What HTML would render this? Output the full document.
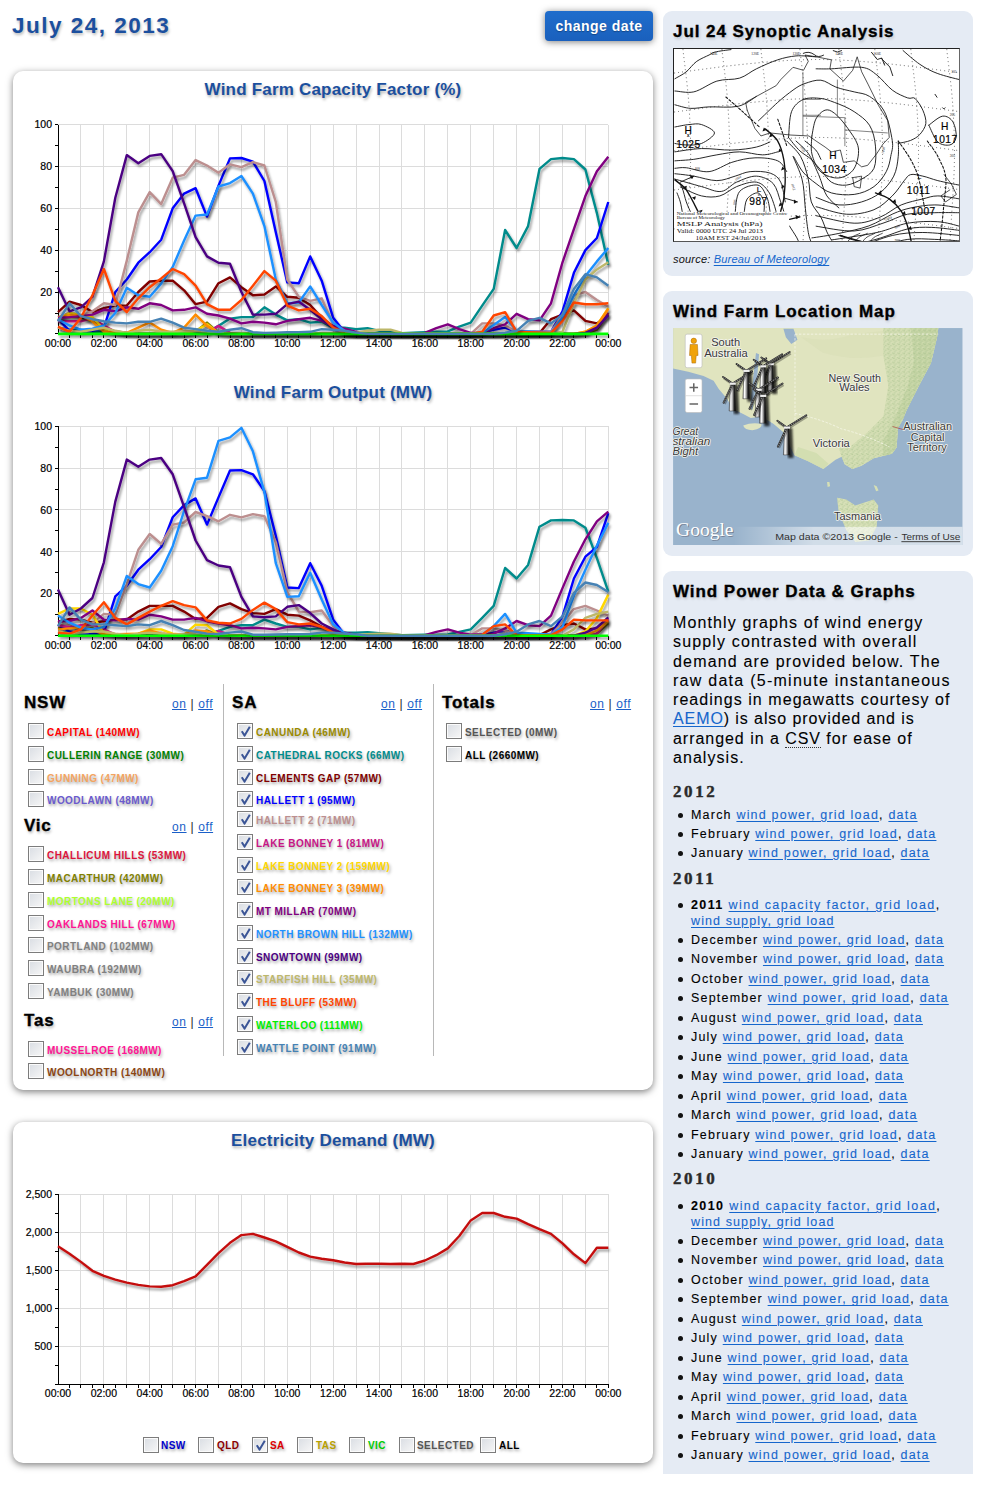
<!DOCTYPE html>
<html><head><meta charset="utf-8"><title>Wind</title>
<style>
*{box-sizing:border-box}
html,body{margin:0;padding:0;background:#fff}
body{width:984px;height:1489px;overflow:hidden;position:relative;font-family:"Liberation Sans",sans-serif}
.a{position:absolute}
#title{position:absolute;left:12px;top:13px;font-size:22.5px;font-weight:bold;color:#1b4f9e;text-shadow:1px 2px 3px rgba(0,0,0,.28);letter-spacing:1.5px;white-space:nowrap}
#btn{position:absolute;left:545px;top:11px;width:108px;height:30px;background:#1c65c4;border-radius:4px;box-shadow:0 1px 7px rgba(0,0,0,.5);background-image:linear-gradient(#1f6dcc,#1a60bd);color:#fff;font-weight:bold;font-size:14px;letter-spacing:0.5px;text-align:center;line-height:30px;text-shadow:0 1px 1px rgba(0,0,0,.3)}
.panel{position:absolute;background:#fff;border-radius:10px;box-shadow:0 2px 7px rgba(0,0,0,.5)}
.ctitle{position:absolute;left:0;width:640px;text-align:center;font-weight:bold;font-size:17px;color:#1b4f9e;text-shadow:1px 2px 3px rgba(0,0,0,.3);white-space:nowrap;letter-spacing:0.2px}
svg.page{position:absolute;left:0;top:0}
.cb{position:absolute;width:16px;height:16px;border:1px solid #7c7c7c;background:linear-gradient(135deg,#d9dde3,#f7f7f7);box-shadow:inset 0 0 0 1px #fbfbfb}
.cb .ck{position:absolute;left:2px;top:2px}
.lab{position:absolute;font-size:10px;font-weight:bold;white-space:nowrap;text-shadow:1px 2px 3px rgba(0,0,0,.35);line-height:14px;letter-spacing:0.45px}
.grp{position:absolute;font-size:17px;letter-spacing:0.8px;font-weight:bold;color:#000;-webkit-text-stroke:0.35px #000;text-shadow:1px 2px 3px rgba(0,0,0,.3);line-height:20px}
.onoff{position:absolute;font-size:12px;letter-spacing:0.6px;color:#222;white-space:nowrap;line-height:14px}
.onoff a{color:#1a5fc8;text-decoration:underline}
.vdiv{position:absolute;width:1px;background:#b8b8b8}
.sbox{position:absolute;left:663px;width:310px;background:#e5ebf4;border-radius:9px}
.sh{position:absolute;left:673px;font-size:17px;font-weight:bold;color:#000;-webkit-text-stroke:0.35px #000;text-shadow:1px 2px 3px rgba(0,0,0,.18);white-space:nowrap;letter-spacing:0.95px}
.ptxt{position:absolute;left:673px;font-size:16px;line-height:19.3px;color:#000;white-space:nowrap;letter-spacing:1.05px;-webkit-text-stroke:0.1px}
.ptxt a,.li a,.src a{color:#1566cc;text-decoration:underline;text-underline-offset:1.5px}
.abbr{border-bottom:1px dotted #333}
.yr{position:absolute;left:673px;font-family:"Liberation Serif",serif;font-weight:bold;font-size:17px;letter-spacing:2.6px;color:#2a2a2a;line-height:22px;-webkit-text-stroke:0.4px #2a2a2a}
.li{position:absolute;left:691px;font-size:12.5px;line-height:16px;color:#000;white-space:nowrap;letter-spacing:1.2px;-webkit-text-stroke:0.1px}
.bul{position:absolute;left:-13px;top:6px;width:5px;height:5px;border-radius:50%;background:#111}
.src{position:absolute;left:673px;top:253px;font-size:11px;font-style:italic;color:#111;white-space:nowrap;letter-spacing:0.2px}
</style></head><body>
<div id="title">July 24, 2013</div>
<div id="btn">change date</div>
<div class="panel" style="left:13px;top:71px;width:640px;height:1019px"></div>
<div class="panel" style="left:13px;top:1122px;width:640px;height:341px"></div>
<div class="ctitle" style="left:13px;top:80px">Wind Farm Capacity Factor (%)</div>
<div class="ctitle" style="left:13px;top:383px">Wind Farm Output (MW)</div>
<div class="ctitle" style="left:13px;top:1131px">Electricity Demand (MW)</div>
<svg class="page" width="660" height="1489" viewBox="0 0 660 1489">
<defs><filter id="sh" filterUnits="userSpaceOnUse" x="0" y="0" width="660" height="1489"><feDropShadow dx="1.5" dy="2.5" stdDeviation="1.3" flood-color="#000" flood-opacity="0.38"/></filter></defs>
<g stroke="#dcdcdc" stroke-width="1" shape-rendering="crispEdges"><line x1="80.9" y1="124.5" x2="80.9" y2="333.9"/><line x1="103.9" y1="124.5" x2="103.9" y2="333.9"/><line x1="126.8" y1="124.5" x2="126.8" y2="333.9"/><line x1="149.7" y1="124.5" x2="149.7" y2="333.9"/><line x1="172.7" y1="124.5" x2="172.7" y2="333.9"/><line x1="195.6" y1="124.5" x2="195.6" y2="333.9"/><line x1="218.5" y1="124.5" x2="218.5" y2="333.9"/><line x1="241.4" y1="124.5" x2="241.4" y2="333.9"/><line x1="264.4" y1="124.5" x2="264.4" y2="333.9"/><line x1="287.3" y1="124.5" x2="287.3" y2="333.9"/><line x1="310.2" y1="124.5" x2="310.2" y2="333.9"/><line x1="333.2" y1="124.5" x2="333.2" y2="333.9"/><line x1="356.1" y1="124.5" x2="356.1" y2="333.9"/><line x1="379.0" y1="124.5" x2="379.0" y2="333.9"/><line x1="401.9" y1="124.5" x2="401.9" y2="333.9"/><line x1="424.9" y1="124.5" x2="424.9" y2="333.9"/><line x1="447.8" y1="124.5" x2="447.8" y2="333.9"/><line x1="470.7" y1="124.5" x2="470.7" y2="333.9"/><line x1="493.7" y1="124.5" x2="493.7" y2="333.9"/><line x1="516.6" y1="124.5" x2="516.6" y2="333.9"/><line x1="539.5" y1="124.5" x2="539.5" y2="333.9"/><line x1="562.5" y1="124.5" x2="562.5" y2="333.9"/><line x1="585.4" y1="124.5" x2="585.4" y2="333.9"/><line x1="608.3" y1="124.5" x2="608.3" y2="333.9"/><line x1="58.0" y1="292.0" x2="608.3" y2="292.0"/><line x1="58.0" y1="250.1" x2="608.3" y2="250.1"/><line x1="58.0" y1="208.3" x2="608.3" y2="208.3"/><line x1="58.0" y1="166.4" x2="608.3" y2="166.4"/><line x1="58.0" y1="124.5" x2="608.3" y2="124.5"/></g><g stroke="#000" stroke-width="1" shape-rendering="crispEdges"><line x1="58.0" y1="124.5" x2="58.0" y2="333.9"/><line x1="58.0" y1="333.9" x2="608.3" y2="333.9"/><line x1="54.5" y1="333.9" x2="58.0" y2="333.9"/><line x1="54.5" y1="313.0" x2="58.0" y2="313.0"/><line x1="54.5" y1="292.0" x2="58.0" y2="292.0"/><line x1="54.5" y1="271.1" x2="58.0" y2="271.1"/><line x1="54.5" y1="250.1" x2="58.0" y2="250.1"/><line x1="54.5" y1="229.2" x2="58.0" y2="229.2"/><line x1="54.5" y1="208.3" x2="58.0" y2="208.3"/><line x1="54.5" y1="187.3" x2="58.0" y2="187.3"/><line x1="54.5" y1="166.4" x2="58.0" y2="166.4"/><line x1="54.5" y1="145.4" x2="58.0" y2="145.4"/><line x1="54.5" y1="124.5" x2="58.0" y2="124.5"/><line x1="69.5" y1="333.9" x2="69.5" y2="337.9"/><line x1="80.9" y1="333.9" x2="80.9" y2="337.9"/><line x1="92.4" y1="333.9" x2="92.4" y2="337.9"/><line x1="103.9" y1="333.9" x2="103.9" y2="337.9"/><line x1="115.3" y1="333.9" x2="115.3" y2="337.9"/><line x1="126.8" y1="333.9" x2="126.8" y2="337.9"/><line x1="138.3" y1="333.9" x2="138.3" y2="337.9"/><line x1="149.7" y1="333.9" x2="149.7" y2="337.9"/><line x1="161.2" y1="333.9" x2="161.2" y2="337.9"/><line x1="172.7" y1="333.9" x2="172.7" y2="337.9"/><line x1="184.1" y1="333.9" x2="184.1" y2="337.9"/><line x1="195.6" y1="333.9" x2="195.6" y2="337.9"/><line x1="207.0" y1="333.9" x2="207.0" y2="337.9"/><line x1="218.5" y1="333.9" x2="218.5" y2="337.9"/><line x1="230.0" y1="333.9" x2="230.0" y2="337.9"/><line x1="241.4" y1="333.9" x2="241.4" y2="337.9"/><line x1="252.9" y1="333.9" x2="252.9" y2="337.9"/><line x1="264.4" y1="333.9" x2="264.4" y2="337.9"/><line x1="275.8" y1="333.9" x2="275.8" y2="337.9"/><line x1="287.3" y1="333.9" x2="287.3" y2="337.9"/><line x1="298.8" y1="333.9" x2="298.8" y2="337.9"/><line x1="310.2" y1="333.9" x2="310.2" y2="337.9"/><line x1="321.7" y1="333.9" x2="321.7" y2="337.9"/><line x1="333.2" y1="333.9" x2="333.2" y2="337.9"/><line x1="344.6" y1="333.9" x2="344.6" y2="337.9"/><line x1="356.1" y1="333.9" x2="356.1" y2="337.9"/><line x1="367.6" y1="333.9" x2="367.6" y2="337.9"/><line x1="379.0" y1="333.9" x2="379.0" y2="337.9"/><line x1="390.5" y1="333.9" x2="390.5" y2="337.9"/><line x1="401.9" y1="333.9" x2="401.9" y2="337.9"/><line x1="413.4" y1="333.9" x2="413.4" y2="337.9"/><line x1="424.9" y1="333.9" x2="424.9" y2="337.9"/><line x1="436.3" y1="333.9" x2="436.3" y2="337.9"/><line x1="447.8" y1="333.9" x2="447.8" y2="337.9"/><line x1="459.3" y1="333.9" x2="459.3" y2="337.9"/><line x1="470.7" y1="333.9" x2="470.7" y2="337.9"/><line x1="482.2" y1="333.9" x2="482.2" y2="337.9"/><line x1="493.7" y1="333.9" x2="493.7" y2="337.9"/><line x1="505.1" y1="333.9" x2="505.1" y2="337.9"/><line x1="516.6" y1="333.9" x2="516.6" y2="337.9"/><line x1="528.1" y1="333.9" x2="528.1" y2="337.9"/><line x1="539.5" y1="333.9" x2="539.5" y2="337.9"/><line x1="551.0" y1="333.9" x2="551.0" y2="337.9"/><line x1="562.5" y1="333.9" x2="562.5" y2="337.9"/><line x1="573.9" y1="333.9" x2="573.9" y2="337.9"/><line x1="585.4" y1="333.9" x2="585.4" y2="337.9"/><line x1="596.9" y1="333.9" x2="596.9" y2="337.9"/><line x1="608.3" y1="333.9" x2="608.3" y2="337.9"/></g><g font-family="Liberation Sans" font-size="10.5" fill="#000" stroke="#000" stroke-width="0.2"><text x="52.0" y="128.1" text-anchor="end">100</text><text x="52.0" y="170.0" text-anchor="end">80</text><text x="52.0" y="211.9" text-anchor="end">60</text><text x="52.0" y="253.7" text-anchor="end">40</text><text x="52.0" y="295.6" text-anchor="end">20</text><text x="58.0" y="346.9" text-anchor="middle">00:00</text><text x="103.9" y="346.9" text-anchor="middle">02:00</text><text x="149.7" y="346.9" text-anchor="middle">04:00</text><text x="195.6" y="346.9" text-anchor="middle">06:00</text><text x="241.4" y="346.9" text-anchor="middle">08:00</text><text x="287.3" y="346.9" text-anchor="middle">10:00</text><text x="333.2" y="346.9" text-anchor="middle">12:00</text><text x="379.0" y="346.9" text-anchor="middle">14:00</text><text x="424.9" y="346.9" text-anchor="middle">16:00</text><text x="470.7" y="346.9" text-anchor="middle">18:00</text><text x="516.6" y="346.9" text-anchor="middle">20:00</text><text x="562.5" y="346.9" text-anchor="middle">22:00</text><text x="608.3" y="346.9" text-anchor="middle">00:00</text></g><g><polyline points="58.0,317.1 69.5,317.1 80.9,317.1 92.4,321.3 103.9,329.7 115.3,331.3 126.8,332.9 138.3,333.9 149.7,333.9 161.2,333.9 172.7,333.9 184.1,333.9 195.6,331.8 207.0,322.6 218.5,332.9 230.0,333.9 241.4,333.9 252.9,333.9 264.4,333.9 275.8,333.9 287.3,333.9 298.8,333.9 310.2,333.9 321.7,333.9 333.2,333.9 344.6,333.9 356.1,333.9 367.6,333.9 379.0,333.9 390.5,333.9 401.9,333.9 413.4,333.9 424.9,333.9 436.3,333.9 447.8,333.9 459.3,333.9 470.7,333.9 482.2,333.9 493.7,333.9 505.1,333.9 516.6,333.9 528.1,333.9 539.5,333.9 551.0,333.9 562.5,333.9 573.9,333.9 585.4,333.9 596.9,329.7 608.3,313.0" fill="none" stroke="#808000" stroke-width="2.4" stroke-linejoin="round" filter="url(#sh)"/><polyline points="58.0,327.6 69.5,329.7 80.9,329.7 92.4,331.8 103.9,331.8 115.3,332.3 126.8,332.9 138.3,333.9 149.7,333.9 161.2,333.9 172.7,333.9 184.1,333.9 195.6,332.9 207.0,332.9 218.5,325.9 230.0,318.6 241.4,317.1 252.9,317.1 264.4,307.3 275.8,314.6 287.3,320.3 298.8,319.2 310.2,322.6 321.7,321.8 333.2,327.6 344.6,327.6 356.1,329.1 367.6,328.2 379.0,330.8 390.5,331.9 401.9,333.1 413.4,332.6 424.9,332.2 436.3,331.8 447.8,331.4 459.3,326.6 470.7,322.6 482.2,305.6 493.7,288.9 505.1,230.0 516.6,248.0 528.1,226.1 539.5,168.9 551.0,159.1 562.5,158.0 573.9,159.1 585.4,169.5 596.9,213.1 608.3,264.8" fill="none" stroke="#008b8b" stroke-width="2.4" stroke-linejoin="round" filter="url(#sh)"/><polyline points="58.0,312.1 69.5,301.7 80.9,305.0 92.4,312.1 103.9,308.1 115.3,305.6 126.8,305.6 138.3,292.0 149.7,281.5 161.2,280.7 172.7,280.7 184.1,290.3 195.6,304.2 207.0,301.7 218.5,283.2 230.0,277.4 241.4,287.2 252.9,295.2 264.4,294.5 275.8,286.4 287.3,296.8 298.8,297.7 310.2,305.0 321.7,317.8 333.2,326.6 344.6,332.9 356.1,333.9 367.6,333.9 379.0,333.9 390.5,333.9 401.9,333.9 413.4,333.9 424.9,333.9 436.3,333.9 447.8,333.9 459.3,333.9 470.7,333.9 482.2,333.9 493.7,333.9 505.1,333.9 516.6,333.9 528.1,333.9 539.5,332.9 551.0,319.2 562.5,314.6 573.9,310.4 585.4,320.9 596.9,323.4 608.3,315.1" fill="none" stroke="#800000" stroke-width="2.4" stroke-linejoin="round" filter="url(#sh)"/><polyline points="58.0,319.2 69.5,330.8 80.9,331.8 92.4,330.8 103.9,327.6 115.3,292.0 126.8,279.5 138.3,262.7 149.7,252.2 161.2,239.7 172.7,208.3 184.1,193.6 195.6,188.2 207.0,216.6 218.5,185.6 230.0,158.4 241.4,158.0 252.9,161.6 264.4,181.0 275.8,232.3 287.3,282.4 298.8,283.2 310.2,256.4 321.7,280.7 333.2,317.8 344.6,332.2 356.1,333.9 367.6,333.9 379.0,333.9 390.5,333.9 401.9,333.9 413.4,333.9 424.9,333.9 436.3,333.9 447.8,333.9 459.3,333.9 470.7,333.9 482.2,332.9 493.7,329.7 505.1,327.6 516.6,331.8 528.1,331.8 539.5,331.8 551.0,331.8 562.5,311.3 573.9,272.8 585.4,250.1 596.9,238.0 608.3,202.0" fill="none" stroke="#0000ff" stroke-width="2.4" stroke-linejoin="round" filter="url(#sh)"/><polyline points="58.0,317.1 69.5,313.0 80.9,315.1 92.4,311.3 103.9,303.3 115.3,305.0 126.8,260.6 138.3,212.4 149.7,192.1 161.2,204.1 172.7,177.7 184.1,174.8 195.6,160.1 207.0,165.5 218.5,172.7 230.0,164.3 241.4,167.2 252.9,162.2 264.4,165.5 275.8,202.0 287.3,279.5 298.8,296.8 310.2,300.8 321.7,298.3 333.2,324.3 344.6,332.9 356.1,333.9 367.6,333.9 379.0,333.9 390.5,333.9 401.9,333.9 413.4,333.9 424.9,333.9 436.3,333.9 447.8,333.9 459.3,333.9 470.7,333.9 482.2,323.4 493.7,323.4 505.1,325.5 516.6,331.8 528.1,331.8 539.5,331.8 551.0,331.8 562.5,314.6 573.9,295.2 585.4,292.0 596.9,300.0 608.3,306.7" fill="none" stroke="#bc8f8f" stroke-width="2.4" stroke-linejoin="round" filter="url(#sh)"/><polyline points="58.0,321.3 69.5,321.3 80.9,321.3 92.4,318.2 103.9,325.5 115.3,331.8 126.8,333.9 138.3,333.9 149.7,333.9 161.2,333.9 172.7,333.9 184.1,333.9 195.6,333.9 207.0,332.9 218.5,325.9 230.0,332.9 241.4,333.9 252.9,333.9 264.4,333.9 275.8,333.9 287.3,333.9 298.8,333.9 310.2,333.9 321.7,333.9 333.2,333.9 344.6,333.9 356.1,333.9 367.6,333.9 379.0,333.9 390.5,333.9 401.9,333.9 413.4,333.9 424.9,333.9 436.3,333.9 447.8,333.9 459.3,333.9 470.7,333.9 482.2,333.9 493.7,333.9 505.1,333.9 516.6,333.9 528.1,333.9 539.5,333.9 551.0,333.9 562.5,333.9 573.9,333.9 585.4,332.9 596.9,327.6 608.3,313.0" fill="none" stroke="#c71585" stroke-width="2.4" stroke-linejoin="round" filter="url(#sh)"/><polyline points="58.0,319.2 69.5,313.0 80.9,315.1 92.4,317.1 103.9,329.7 115.3,332.9 126.8,333.9 138.3,333.9 149.7,333.9 161.2,333.9 172.7,333.9 184.1,333.9 195.6,330.8 207.0,324.3 218.5,332.9 230.0,333.9 241.4,333.9 252.9,333.9 264.4,333.9 275.8,333.9 287.3,333.9 298.8,333.9 310.2,333.9 321.7,333.9 333.2,333.9 344.6,333.9 356.1,333.9 367.6,333.9 379.0,333.9 390.5,333.9 401.9,333.9 413.4,333.9 424.9,333.9 436.3,333.9 447.8,333.9 459.3,333.9 470.7,333.9 482.2,333.9 493.7,333.9 505.1,333.9 516.6,333.9 528.1,333.9 539.5,333.9 551.0,333.9 562.5,333.9 573.9,333.9 585.4,331.8 596.9,325.5 608.3,308.1" fill="none" stroke="#ffd700" stroke-width="2.4" stroke-linejoin="round" filter="url(#sh)"/><polyline points="58.0,317.1 69.5,315.1 80.9,315.1 92.4,321.3 103.9,331.8 115.3,332.3 126.8,332.9 138.3,327.6 149.7,322.4 161.2,329.7 172.7,332.9 184.1,327.6 195.6,314.6 207.0,325.9 218.5,332.9 230.0,333.9 241.4,333.9 252.9,333.9 264.4,333.9 275.8,333.9 287.3,333.9 298.8,333.9 310.2,333.9 321.7,333.9 333.2,333.9 344.6,333.9 356.1,333.9 367.6,333.9 379.0,333.9 390.5,333.9 401.9,333.9 413.4,333.9 424.9,333.9 436.3,333.9 447.8,333.9 459.3,333.9 470.7,333.9 482.2,333.9 493.7,333.9 505.1,333.9 516.6,333.9 528.1,333.9 539.5,333.9 551.0,333.9 562.5,333.9 573.9,333.9 585.4,331.8 596.9,325.5 608.3,308.8" fill="none" stroke="#ff8c00" stroke-width="2.4" stroke-linejoin="round" filter="url(#sh)"/><polyline points="58.0,317.8 69.5,317.1 80.9,316.1 92.4,314.6 103.9,309.8 115.3,311.3 126.8,307.3 138.3,308.8 149.7,303.3 161.2,305.0 172.7,310.4 184.1,309.8 195.6,307.3 207.0,313.8 218.5,315.5 230.0,318.6 241.4,323.4 252.9,321.8 264.4,322.6 275.8,324.3 287.3,320.9 298.8,319.2 310.2,317.8 321.7,320.9 333.2,325.9 344.6,328.7 356.1,331.8 367.6,333.9 379.0,333.9 390.5,333.9 401.9,333.9 413.4,333.9 424.9,332.9 436.3,328.2 447.8,324.3 459.3,329.1 470.7,332.9 482.2,332.9 493.7,328.2 505.1,324.3 516.6,313.8 528.1,319.2 539.5,320.3 551.0,303.3 562.5,262.3 573.9,229.2 585.4,196.1 596.9,171.2 608.3,156.7" fill="none" stroke="#800080" stroke-width="2.4" stroke-linejoin="round" filter="url(#sh)"/><polyline points="58.0,319.2 69.5,325.5 80.9,329.7 92.4,328.7 103.9,325.5 115.3,313.0 126.8,287.8 138.3,295.2 149.7,296.8 161.2,283.6 172.7,266.9 184.1,240.5 195.6,215.6 207.0,214.5 218.5,186.5 230.0,183.1 241.4,176.0 252.9,193.6 264.4,226.1 275.8,279.5 287.3,303.3 298.8,302.5 310.2,286.4 321.7,305.0 333.2,322.6 344.6,330.8 356.1,333.9 367.6,333.9 379.0,333.9 390.5,333.9 401.9,333.9 413.4,333.9 424.9,333.9 436.3,333.9 447.8,333.9 459.3,333.9 470.7,333.9 482.2,332.9 493.7,325.1 505.1,317.1 516.6,330.8 528.1,331.5 539.5,332.2 551.0,332.9 562.5,317.8 573.9,295.2 585.4,275.9 596.9,261.4 608.3,248.0" fill="none" stroke="#1e90ff" stroke-width="2.4" stroke-linejoin="round" filter="url(#sh)"/><polyline points="58.0,287.2 69.5,311.3 80.9,307.3 92.4,296.8 103.9,261.4 115.3,197.8 126.8,155.1 138.3,163.2 149.7,155.9 161.2,154.2 172.7,171.2 184.1,203.4 195.6,237.2 207.0,256.4 218.5,262.7 230.0,263.8 241.4,292.0 252.9,314.6 264.4,314.6 275.8,313.8 287.3,304.2 298.8,301.7 310.2,309.8 321.7,319.2 333.2,327.6 344.6,332.9 356.1,333.9 367.6,333.9 379.0,333.9 390.5,333.9 401.9,333.9 413.4,333.9 424.9,333.9 436.3,333.9 447.8,333.9 459.3,333.9 470.7,333.9 482.2,333.9 493.7,333.9 505.1,333.9 516.6,333.9 528.1,333.9 539.5,333.9 551.0,333.9 562.5,333.9 573.9,333.9 585.4,332.9 596.9,327.6 608.3,315.1" fill="none" stroke="#4b0082" stroke-width="2.4" stroke-linejoin="round" filter="url(#sh)"/><polyline points="58.0,327.6 69.5,330.8 80.9,331.8 92.4,329.7 103.9,327.6 115.3,330.8 126.8,332.9 138.3,330.8 149.7,329.7 161.2,331.8 172.7,331.8 184.1,331.3 195.6,330.8 207.0,331.8 218.5,332.9 230.0,333.9 241.4,333.9 252.9,333.9 264.4,333.9 275.8,333.9 287.3,333.9 298.8,333.9 310.2,333.9 321.7,333.9 333.2,333.9 344.6,333.9 356.1,332.9 367.6,330.8 379.0,329.7 390.5,329.7 401.9,332.9 413.4,333.9 424.9,333.9 436.3,333.9 447.8,333.9 459.3,333.9 470.7,333.9 482.2,333.9 493.7,333.9 505.1,333.9 516.6,333.9 528.1,333.9 539.5,333.9 551.0,333.9 562.5,331.8 573.9,303.3 585.4,279.5 596.9,269.4 608.3,262.3" fill="none" stroke="#bdb76b" stroke-width="2.4" stroke-linejoin="round" filter="url(#sh)"/><polyline points="58.0,326.6 69.5,331.8 80.9,317.8 92.4,295.2 103.9,269.0 115.3,300.8 126.8,312.1 138.3,298.3 149.7,287.2 161.2,278.4 172.7,269.0 184.1,274.2 195.6,285.7 207.0,304.2 218.5,309.8 230.0,309.8 241.4,300.0 252.9,285.7 264.4,271.1 275.8,280.7 287.3,305.6 298.8,310.4 310.2,308.8 321.7,316.1 333.2,327.6 344.6,332.9 356.1,333.9 367.6,333.9 379.0,333.9 390.5,333.9 401.9,333.9 413.4,333.9 424.9,333.9 436.3,333.9 447.8,333.9 459.3,333.9 470.7,333.9 482.2,331.8 493.7,315.5 505.1,312.1 516.6,331.8 528.1,332.2 539.5,332.5 551.0,332.9 562.5,320.9 573.9,302.5 585.4,304.2 596.9,304.2 608.3,303.3" fill="none" stroke="#ff4500" stroke-width="2.4" stroke-linejoin="round" filter="url(#sh)"/><polyline points="58.0,333.9 69.5,333.9 80.9,333.9 92.4,333.9 103.9,333.9 115.3,333.9 126.8,333.9 138.3,333.9 149.7,333.9 161.2,333.9 172.7,333.9 184.1,333.9 195.6,333.9 207.0,333.9 218.5,333.9 230.0,333.9 241.4,333.9 252.9,333.9 264.4,333.9 275.8,333.9 287.3,333.9 298.8,333.9 310.2,333.9 321.7,333.9 333.2,333.9 344.6,333.9 356.1,333.9 367.6,333.9 379.0,333.9 390.5,333.9 401.9,333.9 413.4,333.9 424.9,333.9 436.3,333.9 447.8,333.9 459.3,333.9 470.7,333.9 482.2,333.9 493.7,333.9 505.1,333.9 516.6,333.9 528.1,333.9 539.5,333.9 551.0,333.9 562.5,333.9 573.9,333.9 585.4,333.9 596.9,333.9 608.3,333.9" fill="none" stroke="#00ff00" stroke-width="2.6" stroke-linejoin="round" filter="url(#sh)"/><polyline points="58.0,321.3 69.5,303.3 80.9,316.1 92.4,319.2 103.9,321.3 115.3,322.6 126.8,323.4 138.3,321.8 149.7,321.8 161.2,318.6 172.7,322.6 184.1,327.6 195.6,329.1 207.0,330.8 218.5,331.8 230.0,329.7 241.4,328.2 252.9,332.2 264.4,332.9 275.8,332.6 287.3,332.3 298.8,332.1 310.2,331.8 321.7,329.1 333.2,329.7 344.6,330.8 356.1,332.6 367.6,333.9 379.0,333.9 390.5,333.9 401.9,333.9 413.4,333.9 424.9,333.9 436.3,333.9 447.8,333.9 459.3,333.9 470.7,333.9 482.2,333.9 493.7,333.9 505.1,332.6 516.6,330.8 528.1,320.9 539.5,317.8 551.0,323.4 562.5,314.6 573.9,288.9 585.4,274.2 596.9,277.4 608.3,285.7" fill="none" stroke="#4682b4" stroke-width="2.4" stroke-linejoin="round" filter="url(#sh)"/></g>
<g stroke="#dcdcdc" stroke-width="1" shape-rendering="crispEdges"><line x1="80.9" y1="426.1" x2="80.9" y2="635.7"/><line x1="103.9" y1="426.1" x2="103.9" y2="635.7"/><line x1="126.8" y1="426.1" x2="126.8" y2="635.7"/><line x1="149.7" y1="426.1" x2="149.7" y2="635.7"/><line x1="172.7" y1="426.1" x2="172.7" y2="635.7"/><line x1="195.6" y1="426.1" x2="195.6" y2="635.7"/><line x1="218.5" y1="426.1" x2="218.5" y2="635.7"/><line x1="241.4" y1="426.1" x2="241.4" y2="635.7"/><line x1="264.4" y1="426.1" x2="264.4" y2="635.7"/><line x1="287.3" y1="426.1" x2="287.3" y2="635.7"/><line x1="310.2" y1="426.1" x2="310.2" y2="635.7"/><line x1="333.2" y1="426.1" x2="333.2" y2="635.7"/><line x1="356.1" y1="426.1" x2="356.1" y2="635.7"/><line x1="379.0" y1="426.1" x2="379.0" y2="635.7"/><line x1="401.9" y1="426.1" x2="401.9" y2="635.7"/><line x1="424.9" y1="426.1" x2="424.9" y2="635.7"/><line x1="447.8" y1="426.1" x2="447.8" y2="635.7"/><line x1="470.7" y1="426.1" x2="470.7" y2="635.7"/><line x1="493.7" y1="426.1" x2="493.7" y2="635.7"/><line x1="516.6" y1="426.1" x2="516.6" y2="635.7"/><line x1="539.5" y1="426.1" x2="539.5" y2="635.7"/><line x1="562.5" y1="426.1" x2="562.5" y2="635.7"/><line x1="585.4" y1="426.1" x2="585.4" y2="635.7"/><line x1="608.3" y1="426.1" x2="608.3" y2="635.7"/><line x1="58.0" y1="593.8" x2="608.3" y2="593.8"/><line x1="58.0" y1="551.9" x2="608.3" y2="551.9"/><line x1="58.0" y1="509.9" x2="608.3" y2="509.9"/><line x1="58.0" y1="468.0" x2="608.3" y2="468.0"/><line x1="58.0" y1="426.1" x2="608.3" y2="426.1"/></g><g stroke="#000" stroke-width="1" shape-rendering="crispEdges"><line x1="58.0" y1="426.1" x2="58.0" y2="635.7"/><line x1="58.0" y1="635.7" x2="608.3" y2="635.7"/><line x1="54.5" y1="635.7" x2="58.0" y2="635.7"/><line x1="54.5" y1="614.7" x2="58.0" y2="614.7"/><line x1="54.5" y1="593.8" x2="58.0" y2="593.8"/><line x1="54.5" y1="572.8" x2="58.0" y2="572.8"/><line x1="54.5" y1="551.9" x2="58.0" y2="551.9"/><line x1="54.5" y1="530.9" x2="58.0" y2="530.9"/><line x1="54.5" y1="509.9" x2="58.0" y2="509.9"/><line x1="54.5" y1="489.0" x2="58.0" y2="489.0"/><line x1="54.5" y1="468.0" x2="58.0" y2="468.0"/><line x1="54.5" y1="447.1" x2="58.0" y2="447.1"/><line x1="54.5" y1="426.1" x2="58.0" y2="426.1"/><line x1="69.5" y1="635.7" x2="69.5" y2="639.7"/><line x1="80.9" y1="635.7" x2="80.9" y2="639.7"/><line x1="92.4" y1="635.7" x2="92.4" y2="639.7"/><line x1="103.9" y1="635.7" x2="103.9" y2="639.7"/><line x1="115.3" y1="635.7" x2="115.3" y2="639.7"/><line x1="126.8" y1="635.7" x2="126.8" y2="639.7"/><line x1="138.3" y1="635.7" x2="138.3" y2="639.7"/><line x1="149.7" y1="635.7" x2="149.7" y2="639.7"/><line x1="161.2" y1="635.7" x2="161.2" y2="639.7"/><line x1="172.7" y1="635.7" x2="172.7" y2="639.7"/><line x1="184.1" y1="635.7" x2="184.1" y2="639.7"/><line x1="195.6" y1="635.7" x2="195.6" y2="639.7"/><line x1="207.0" y1="635.7" x2="207.0" y2="639.7"/><line x1="218.5" y1="635.7" x2="218.5" y2="639.7"/><line x1="230.0" y1="635.7" x2="230.0" y2="639.7"/><line x1="241.4" y1="635.7" x2="241.4" y2="639.7"/><line x1="252.9" y1="635.7" x2="252.9" y2="639.7"/><line x1="264.4" y1="635.7" x2="264.4" y2="639.7"/><line x1="275.8" y1="635.7" x2="275.8" y2="639.7"/><line x1="287.3" y1="635.7" x2="287.3" y2="639.7"/><line x1="298.8" y1="635.7" x2="298.8" y2="639.7"/><line x1="310.2" y1="635.7" x2="310.2" y2="639.7"/><line x1="321.7" y1="635.7" x2="321.7" y2="639.7"/><line x1="333.2" y1="635.7" x2="333.2" y2="639.7"/><line x1="344.6" y1="635.7" x2="344.6" y2="639.7"/><line x1="356.1" y1="635.7" x2="356.1" y2="639.7"/><line x1="367.6" y1="635.7" x2="367.6" y2="639.7"/><line x1="379.0" y1="635.7" x2="379.0" y2="639.7"/><line x1="390.5" y1="635.7" x2="390.5" y2="639.7"/><line x1="401.9" y1="635.7" x2="401.9" y2="639.7"/><line x1="413.4" y1="635.7" x2="413.4" y2="639.7"/><line x1="424.9" y1="635.7" x2="424.9" y2="639.7"/><line x1="436.3" y1="635.7" x2="436.3" y2="639.7"/><line x1="447.8" y1="635.7" x2="447.8" y2="639.7"/><line x1="459.3" y1="635.7" x2="459.3" y2="639.7"/><line x1="470.7" y1="635.7" x2="470.7" y2="639.7"/><line x1="482.2" y1="635.7" x2="482.2" y2="639.7"/><line x1="493.7" y1="635.7" x2="493.7" y2="639.7"/><line x1="505.1" y1="635.7" x2="505.1" y2="639.7"/><line x1="516.6" y1="635.7" x2="516.6" y2="639.7"/><line x1="528.1" y1="635.7" x2="528.1" y2="639.7"/><line x1="539.5" y1="635.7" x2="539.5" y2="639.7"/><line x1="551.0" y1="635.7" x2="551.0" y2="639.7"/><line x1="562.5" y1="635.7" x2="562.5" y2="639.7"/><line x1="573.9" y1="635.7" x2="573.9" y2="639.7"/><line x1="585.4" y1="635.7" x2="585.4" y2="639.7"/><line x1="596.9" y1="635.7" x2="596.9" y2="639.7"/><line x1="608.3" y1="635.7" x2="608.3" y2="639.7"/></g><g font-family="Liberation Sans" font-size="10.5" fill="#000" stroke="#000" stroke-width="0.2"><text x="52.0" y="429.7" text-anchor="end">100</text><text x="52.0" y="471.6" text-anchor="end">80</text><text x="52.0" y="513.5" text-anchor="end">60</text><text x="52.0" y="555.5" text-anchor="end">40</text><text x="52.0" y="597.4" text-anchor="end">20</text><text x="58.0" y="648.7" text-anchor="middle">00:00</text><text x="103.9" y="648.7" text-anchor="middle">02:00</text><text x="149.7" y="648.7" text-anchor="middle">04:00</text><text x="195.6" y="648.7" text-anchor="middle">06:00</text><text x="241.4" y="648.7" text-anchor="middle">08:00</text><text x="287.3" y="648.7" text-anchor="middle">10:00</text><text x="333.2" y="648.7" text-anchor="middle">12:00</text><text x="379.0" y="648.7" text-anchor="middle">14:00</text><text x="424.9" y="648.7" text-anchor="middle">16:00</text><text x="470.7" y="648.7" text-anchor="middle">18:00</text><text x="516.6" y="648.7" text-anchor="middle">20:00</text><text x="562.5" y="648.7" text-anchor="middle">22:00</text><text x="608.3" y="648.7" text-anchor="middle">00:00</text></g><g><polyline points="58.0,627.3 69.5,627.3 80.9,627.3 92.4,628.4 103.9,633.6 115.3,634.4 126.8,635.3 138.3,635.7 149.7,635.7 161.2,635.7 172.7,635.7 184.1,635.7 195.6,634.7 207.0,630.5 218.5,635.1 230.0,635.7 241.4,635.7 252.9,635.7 264.4,635.7 275.8,635.7 287.3,635.7 298.8,635.7 310.2,635.7 321.7,635.7 333.2,635.7 344.6,635.7 356.1,635.7 367.6,635.7 379.0,635.7 390.5,635.7 401.9,635.7 413.4,635.7 424.9,635.7 436.3,635.7 447.8,635.7 459.3,635.7 470.7,635.7 482.2,635.7 493.7,635.7 505.1,635.7 516.6,635.7 528.1,635.7 539.5,635.7 551.0,635.7 562.5,635.7 573.9,635.7 585.4,635.7 596.9,633.6 608.3,623.1" fill="none" stroke="#808000" stroke-width="2.4" stroke-linejoin="round" filter="url(#sh)"/><polyline points="58.0,631.5 69.5,632.6 80.9,633.6 92.4,634.1 103.9,634.7 115.3,635.7 126.8,635.7 138.3,635.7 149.7,635.7 161.2,635.7 172.7,635.7 184.1,635.7 195.6,635.7 207.0,634.7 218.5,630.9 230.0,626.9 241.4,625.2 252.9,625.2 264.4,619.6 275.8,623.5 287.3,626.9 298.8,626.9 310.2,629.4 321.7,627.7 333.2,632.6 344.6,632.6 356.1,632.6 367.6,632.1 379.0,633.2 390.5,634.1 401.9,635.1 413.4,634.9 424.9,634.8 436.3,634.6 447.8,634.4 459.3,631.9 470.7,629.4 482.2,617.9 493.7,605.9 505.1,568.0 516.6,578.5 528.1,564.9 539.5,526.7 551.0,520.4 562.5,520.0 573.9,520.4 585.4,527.8 596.9,558.1 608.3,591.7" fill="none" stroke="#008b8b" stroke-width="2.4" stroke-linejoin="round" filter="url(#sh)"/><polyline points="58.0,622.7 69.5,618.9 80.9,619.6 92.4,622.7 103.9,621.2 115.3,619.6 126.8,619.6 138.3,611.6 149.7,605.9 161.2,605.9 172.7,605.9 184.1,611.6 195.6,618.9 207.0,617.9 218.5,606.8 230.0,603.4 241.4,609.1 252.9,613.1 264.4,613.9 275.8,609.1 287.3,614.7 298.8,615.6 310.2,620.4 321.7,626.9 333.2,630.9 344.6,635.1 356.1,635.7 367.6,635.7 379.0,635.7 390.5,635.7 401.9,635.7 413.4,635.7 424.9,635.7 436.3,635.7 447.8,635.7 459.3,635.7 470.7,635.7 482.2,635.7 493.7,635.7 505.1,635.7 516.6,635.7 528.1,635.7 539.5,635.1 551.0,629.4 562.5,625.2 573.9,623.5 585.4,629.4 596.9,628.4 608.3,621.2" fill="none" stroke="#800000" stroke-width="2.4" stroke-linejoin="round" filter="url(#sh)"/><polyline points="58.0,624.4 69.5,631.5 80.9,633.6 92.4,633.6 103.9,632.6 115.3,596.3 126.8,585.8 138.3,569.7 149.7,559.2 161.2,547.0 172.7,517.3 184.1,505.1 195.6,498.4 207.0,524.6 218.5,497.4 230.0,470.5 241.4,470.1 252.9,474.3 264.4,491.1 275.8,535.7 287.3,587.5 298.8,588.1 310.2,563.2 321.7,585.8 333.2,619.6 344.6,634.7 356.1,635.7 367.6,635.7 379.0,635.7 390.5,635.7 401.9,635.7 413.4,635.7 424.9,635.7 436.3,635.7 447.8,635.7 459.3,635.7 470.7,635.7 482.2,635.1 493.7,632.6 505.1,630.5 516.6,634.7 528.1,634.7 539.5,634.7 551.0,634.7 562.5,616.4 573.9,578.5 585.4,556.7 596.9,547.0 608.3,513.1" fill="none" stroke="#0000ff" stroke-width="2.4" stroke-linejoin="round" filter="url(#sh)"/><polyline points="58.0,625.2 69.5,625.2 80.9,627.3 92.4,623.1 103.9,613.9 115.3,614.7 126.8,584.1 138.3,549.8 149.7,534.0 161.2,543.9 172.7,524.6 184.1,522.5 195.6,512.0 207.0,516.2 218.5,521.3 230.0,514.8 241.4,517.3 252.9,514.1 264.4,516.2 275.8,542.2 287.3,592.1 298.8,611.6 310.2,612.2 321.7,610.5 333.2,626.1 344.6,634.7 356.1,635.7 367.6,635.7 379.0,635.7 390.5,635.7 401.9,635.7 413.4,635.7 424.9,635.7 436.3,635.7 447.8,635.7 459.3,635.7 470.7,635.1 482.2,628.4 493.7,628.4 505.1,630.5 516.6,634.7 528.1,634.7 539.5,634.7 551.0,634.7 562.5,622.7 573.9,609.1 585.4,605.9 596.9,610.5 608.3,615.6" fill="none" stroke="#bc8f8f" stroke-width="2.4" stroke-linejoin="round" filter="url(#sh)"/><polyline points="58.0,625.2 69.5,627.3 80.9,625.2 92.4,624.2 103.9,629.4 115.3,634.7 126.8,635.7 138.3,635.7 149.7,635.7 161.2,635.7 172.7,635.7 184.1,635.7 195.6,635.7 207.0,635.1 218.5,630.9 230.0,635.1 241.4,635.7 252.9,635.7 264.4,635.7 275.8,635.7 287.3,635.7 298.8,635.7 310.2,635.7 321.7,635.7 333.2,635.7 344.6,635.7 356.1,635.7 367.6,635.7 379.0,635.7 390.5,635.7 401.9,635.7 413.4,635.7 424.9,635.7 436.3,635.7 447.8,635.7 459.3,635.7 470.7,635.7 482.2,635.7 493.7,635.7 505.1,635.7 516.6,635.7 528.1,635.7 539.5,635.7 551.0,635.7 562.5,635.7 573.9,635.7 585.4,635.7 596.9,633.6 608.3,618.9" fill="none" stroke="#c71585" stroke-width="2.4" stroke-linejoin="round" filter="url(#sh)"/><polyline points="58.0,613.9 69.5,608.5 80.9,608.5 92.4,614.7 103.9,633.6 115.3,635.1 126.8,634.3 138.3,633.6 149.7,629.4 161.2,629.4 172.7,633.6 184.1,634.7 195.6,624.6 207.0,625.2 218.5,634.7 230.0,635.7 241.4,635.7 252.9,635.7 264.4,635.7 275.8,635.7 287.3,635.7 298.8,635.7 310.2,635.7 321.7,635.7 333.2,635.7 344.6,635.7 356.1,635.7 367.6,635.7 379.0,635.7 390.5,635.7 401.9,635.7 413.4,635.7 424.9,635.7 436.3,635.7 447.8,635.7 459.3,635.7 470.7,635.7 482.2,635.7 493.7,635.7 505.1,635.7 516.6,635.7 528.1,635.7 539.5,635.7 551.0,635.7 562.5,635.7 573.9,635.7 585.4,631.5 596.9,617.9 608.3,594.6" fill="none" stroke="#ffd700" stroke-width="2.4" stroke-linejoin="round" filter="url(#sh)"/><polyline points="58.0,629.4 69.5,628.4 80.9,627.3 92.4,629.4 103.9,634.7 115.3,634.3 126.8,634.0 138.3,633.6 149.7,630.5 161.2,633.6 172.7,634.1 184.1,634.7 195.6,630.5 207.0,631.5 218.5,635.1 230.0,635.7 241.4,635.7 252.9,635.7 264.4,635.7 275.8,635.7 287.3,635.7 298.8,635.7 310.2,635.7 321.7,635.7 333.2,635.7 344.6,635.7 356.1,635.7 367.6,635.7 379.0,635.7 390.5,635.7 401.9,635.7 413.4,635.7 424.9,635.7 436.3,635.7 447.8,635.7 459.3,635.7 470.7,635.7 482.2,635.7 493.7,635.7 505.1,635.7 516.6,635.7 528.1,635.7 539.5,635.7 551.0,635.7 562.5,635.7 573.9,635.7 585.4,635.1 596.9,630.5 608.3,621.0" fill="none" stroke="#ff8c00" stroke-width="2.4" stroke-linejoin="round" filter="url(#sh)"/><polyline points="58.0,621.2 69.5,621.0 80.9,617.9 92.4,610.5 103.9,619.6 115.3,620.4 126.8,618.9 138.3,619.6 149.7,614.7 161.2,616.4 172.7,619.6 184.1,619.6 195.6,617.9 207.0,621.2 218.5,623.5 230.0,625.2 241.4,628.4 252.9,627.7 264.4,628.4 275.8,629.4 287.3,626.9 298.8,626.1 310.2,625.2 321.7,626.9 333.2,630.9 344.6,632.6 356.1,634.7 367.6,635.7 379.0,635.7 390.5,635.7 401.9,635.7 413.4,635.7 424.9,635.1 436.3,631.9 447.8,629.4 459.3,632.6 470.7,634.7 482.2,634.1 493.7,633.6 505.1,628.4 516.6,621.0 528.1,625.2 539.5,626.1 551.0,615.6 562.5,588.1 573.9,561.5 585.4,539.3 596.9,521.3 608.3,511.6" fill="none" stroke="#800080" stroke-width="2.4" stroke-linejoin="round" filter="url(#sh)"/><polyline points="58.0,615.6 69.5,622.7 80.9,627.7 92.4,629.4 103.9,626.9 115.3,608.5 126.8,576.0 138.3,584.1 149.7,587.5 161.2,570.7 172.7,546.2 184.1,510.8 195.6,479.3 207.0,477.7 218.5,440.8 230.0,437.4 241.4,427.8 252.9,451.3 264.4,492.1 275.8,563.2 287.3,596.9 298.8,596.3 310.2,572.8 321.7,599.4 333.2,624.4 344.6,633.2 356.1,635.7 367.6,635.7 379.0,635.7 390.5,635.7 401.9,635.7 413.4,635.7 424.9,635.7 436.3,635.7 447.8,635.7 459.3,635.7 470.7,635.7 482.2,634.7 493.7,626.1 505.1,613.9 516.6,632.6 528.1,633.3 539.5,634.0 551.0,634.7 562.5,626.9 573.9,595.5 585.4,569.7 596.9,545.6 608.3,522.9" fill="none" stroke="#1e90ff" stroke-width="2.4" stroke-linejoin="round" filter="url(#sh)"/><polyline points="58.0,589.6 69.5,614.7 80.9,608.5 92.4,598.0 103.9,562.3 115.3,501.6 126.8,459.6 138.3,466.8 149.7,459.6 161.2,458.0 172.7,474.3 184.1,506.8 195.6,540.5 207.0,560.2 218.5,565.5 230.0,567.2 241.4,596.9 252.9,616.4 264.4,617.3 275.8,616.4 287.3,606.8 298.8,605.1 310.2,613.1 321.7,623.5 333.2,629.4 344.6,634.7 356.1,635.7 367.6,635.7 379.0,635.7 390.5,635.7 401.9,635.7 413.4,635.7 424.9,635.7 436.3,635.7 447.8,635.7 459.3,635.7 470.7,635.7 482.2,635.7 493.7,635.7 505.1,635.7 516.6,635.7 528.1,635.7 539.5,635.7 551.0,635.7 562.5,635.7 573.9,635.7 585.4,632.6 596.9,627.3 608.3,617.3" fill="none" stroke="#4b0082" stroke-width="2.4" stroke-linejoin="round" filter="url(#sh)"/><polyline points="58.0,631.5 69.5,633.6 80.9,632.6 92.4,631.5 103.9,631.5 115.3,633.6 126.8,635.1 138.3,633.6 149.7,632.6 161.2,633.6 172.7,634.7 184.1,634.1 195.6,633.6 207.0,635.7 218.5,635.7 230.0,635.7 241.4,635.7 252.9,635.7 264.4,635.7 275.8,635.7 287.3,635.7 298.8,635.7 310.2,635.7 321.7,635.7 333.2,635.7 344.6,635.7 356.1,635.1 367.6,634.3 379.0,633.6 390.5,633.6 401.9,635.1 413.4,635.7 424.9,635.7 436.3,635.7 447.8,635.7 459.3,635.7 470.7,635.7 482.2,635.7 493.7,635.7 505.1,635.7 516.6,635.7 528.1,635.7 539.5,635.7 551.0,635.7 562.5,635.7 573.9,629.4 585.4,617.9 596.9,613.9 608.3,611.6" fill="none" stroke="#bdb76b" stroke-width="2.4" stroke-linejoin="round" filter="url(#sh)"/><polyline points="58.0,632.6 69.5,633.6 80.9,629.4 92.4,615.6 103.9,602.2 115.3,617.9 126.8,624.4 138.3,617.9 149.7,611.6 161.2,605.9 172.7,601.1 184.1,605.1 195.6,607.4 207.0,620.4 218.5,622.7 230.0,623.5 241.4,618.9 252.9,609.9 264.4,602.6 275.8,609.1 287.3,622.1 298.8,624.4 310.2,623.5 321.7,626.9 333.2,632.6 344.6,635.1 356.1,635.7 367.6,635.7 379.0,635.7 390.5,635.7 401.9,635.7 413.4,635.7 424.9,635.7 436.3,635.7 447.8,635.7 459.3,635.7 470.7,635.7 482.2,634.7 493.7,626.1 505.1,624.4 516.6,635.1 528.1,635.1 539.5,635.1 551.0,635.1 562.5,629.4 573.9,619.6 585.4,620.4 596.9,620.4 608.3,620.4" fill="none" stroke="#ff4500" stroke-width="2.4" stroke-linejoin="round" filter="url(#sh)"/><polyline points="58.0,635.7 69.5,635.7 80.9,635.7 92.4,635.7 103.9,635.7 115.3,635.7 126.8,635.7 138.3,635.7 149.7,635.7 161.2,635.7 172.7,635.7 184.1,635.7 195.6,635.7 207.0,635.7 218.5,635.7 230.0,635.7 241.4,635.7 252.9,635.7 264.4,635.7 275.8,635.7 287.3,635.7 298.8,635.7 310.2,635.7 321.7,635.7 333.2,635.7 344.6,635.7 356.1,635.7 367.6,635.7 379.0,635.7 390.5,635.7 401.9,635.7 413.4,635.7 424.9,635.7 436.3,635.7 447.8,635.7 459.3,635.7 470.7,635.7 482.2,635.7 493.7,635.7 505.1,635.7 516.6,635.7 528.1,635.7 539.5,635.7 551.0,635.7 562.5,635.7 573.9,635.7 585.4,635.7 596.9,635.7 608.3,635.7" fill="none" stroke="#00ff00" stroke-width="2.6" stroke-linejoin="round" filter="url(#sh)"/><polyline points="58.0,626.1 69.5,607.4 80.9,619.6 92.4,624.4 103.9,624.4 115.3,625.2 126.8,626.1 138.3,624.4 149.7,625.2 161.2,621.0 172.7,625.2 184.1,630.0 195.6,631.7 207.0,633.6 218.5,634.0 230.0,632.6 241.4,631.5 252.9,634.7 264.4,634.7 275.8,634.5 287.3,634.3 298.8,634.2 310.2,634.0 321.7,632.6 333.2,632.6 344.6,633.6 356.1,634.4 367.6,635.7 379.0,635.7 390.5,635.7 401.9,635.7 413.4,635.7 424.9,635.7 436.3,635.7 447.8,635.7 459.3,635.7 470.7,635.7 482.2,635.7 493.7,635.7 505.1,634.4 516.6,631.7 528.1,624.4 539.5,621.0 551.0,626.1 562.5,616.4 573.9,592.9 585.4,582.5 596.9,585.0 608.3,592.1" fill="none" stroke="#4682b4" stroke-width="2.4" stroke-linejoin="round" filter="url(#sh)"/></g>
<g stroke="#dcdcdc" stroke-width="1" shape-rendering="crispEdges"><line x1="80.9" y1="1194.0" x2="80.9" y2="1384.0"/><line x1="103.9" y1="1194.0" x2="103.9" y2="1384.0"/><line x1="126.8" y1="1194.0" x2="126.8" y2="1384.0"/><line x1="149.7" y1="1194.0" x2="149.7" y2="1384.0"/><line x1="172.7" y1="1194.0" x2="172.7" y2="1384.0"/><line x1="195.6" y1="1194.0" x2="195.6" y2="1384.0"/><line x1="218.5" y1="1194.0" x2="218.5" y2="1384.0"/><line x1="241.4" y1="1194.0" x2="241.4" y2="1384.0"/><line x1="264.4" y1="1194.0" x2="264.4" y2="1384.0"/><line x1="287.3" y1="1194.0" x2="287.3" y2="1384.0"/><line x1="310.2" y1="1194.0" x2="310.2" y2="1384.0"/><line x1="333.2" y1="1194.0" x2="333.2" y2="1384.0"/><line x1="356.1" y1="1194.0" x2="356.1" y2="1384.0"/><line x1="379.0" y1="1194.0" x2="379.0" y2="1384.0"/><line x1="401.9" y1="1194.0" x2="401.9" y2="1384.0"/><line x1="424.9" y1="1194.0" x2="424.9" y2="1384.0"/><line x1="447.8" y1="1194.0" x2="447.8" y2="1384.0"/><line x1="470.7" y1="1194.0" x2="470.7" y2="1384.0"/><line x1="493.7" y1="1194.0" x2="493.7" y2="1384.0"/><line x1="516.6" y1="1194.0" x2="516.6" y2="1384.0"/><line x1="539.5" y1="1194.0" x2="539.5" y2="1384.0"/><line x1="562.5" y1="1194.0" x2="562.5" y2="1384.0"/><line x1="585.4" y1="1194.0" x2="585.4" y2="1384.0"/><line x1="608.3" y1="1194.0" x2="608.3" y2="1384.0"/><line x1="58.0" y1="1346.0" x2="608.3" y2="1346.0"/><line x1="58.0" y1="1308.0" x2="608.3" y2="1308.0"/><line x1="58.0" y1="1270.0" x2="608.3" y2="1270.0"/><line x1="58.0" y1="1232.0" x2="608.3" y2="1232.0"/><line x1="58.0" y1="1194.0" x2="608.3" y2="1194.0"/></g><g stroke="#000" stroke-width="1" shape-rendering="crispEdges"><line x1="58.0" y1="1194.0" x2="58.0" y2="1384.0"/><line x1="58.0" y1="1384.0" x2="608.3" y2="1384.0"/><line x1="54.5" y1="1384.0" x2="58.0" y2="1384.0"/><line x1="54.5" y1="1365.0" x2="58.0" y2="1365.0"/><line x1="54.5" y1="1346.0" x2="58.0" y2="1346.0"/><line x1="54.5" y1="1327.0" x2="58.0" y2="1327.0"/><line x1="54.5" y1="1308.0" x2="58.0" y2="1308.0"/><line x1="54.5" y1="1289.0" x2="58.0" y2="1289.0"/><line x1="54.5" y1="1270.0" x2="58.0" y2="1270.0"/><line x1="54.5" y1="1251.0" x2="58.0" y2="1251.0"/><line x1="54.5" y1="1232.0" x2="58.0" y2="1232.0"/><line x1="54.5" y1="1213.0" x2="58.0" y2="1213.0"/><line x1="54.5" y1="1194.0" x2="58.0" y2="1194.0"/><line x1="69.5" y1="1384.0" x2="69.5" y2="1388.0"/><line x1="80.9" y1="1384.0" x2="80.9" y2="1388.0"/><line x1="92.4" y1="1384.0" x2="92.4" y2="1388.0"/><line x1="103.9" y1="1384.0" x2="103.9" y2="1388.0"/><line x1="115.3" y1="1384.0" x2="115.3" y2="1388.0"/><line x1="126.8" y1="1384.0" x2="126.8" y2="1388.0"/><line x1="138.3" y1="1384.0" x2="138.3" y2="1388.0"/><line x1="149.7" y1="1384.0" x2="149.7" y2="1388.0"/><line x1="161.2" y1="1384.0" x2="161.2" y2="1388.0"/><line x1="172.7" y1="1384.0" x2="172.7" y2="1388.0"/><line x1="184.1" y1="1384.0" x2="184.1" y2="1388.0"/><line x1="195.6" y1="1384.0" x2="195.6" y2="1388.0"/><line x1="207.0" y1="1384.0" x2="207.0" y2="1388.0"/><line x1="218.5" y1="1384.0" x2="218.5" y2="1388.0"/><line x1="230.0" y1="1384.0" x2="230.0" y2="1388.0"/><line x1="241.4" y1="1384.0" x2="241.4" y2="1388.0"/><line x1="252.9" y1="1384.0" x2="252.9" y2="1388.0"/><line x1="264.4" y1="1384.0" x2="264.4" y2="1388.0"/><line x1="275.8" y1="1384.0" x2="275.8" y2="1388.0"/><line x1="287.3" y1="1384.0" x2="287.3" y2="1388.0"/><line x1="298.8" y1="1384.0" x2="298.8" y2="1388.0"/><line x1="310.2" y1="1384.0" x2="310.2" y2="1388.0"/><line x1="321.7" y1="1384.0" x2="321.7" y2="1388.0"/><line x1="333.2" y1="1384.0" x2="333.2" y2="1388.0"/><line x1="344.6" y1="1384.0" x2="344.6" y2="1388.0"/><line x1="356.1" y1="1384.0" x2="356.1" y2="1388.0"/><line x1="367.6" y1="1384.0" x2="367.6" y2="1388.0"/><line x1="379.0" y1="1384.0" x2="379.0" y2="1388.0"/><line x1="390.5" y1="1384.0" x2="390.5" y2="1388.0"/><line x1="401.9" y1="1384.0" x2="401.9" y2="1388.0"/><line x1="413.4" y1="1384.0" x2="413.4" y2="1388.0"/><line x1="424.9" y1="1384.0" x2="424.9" y2="1388.0"/><line x1="436.3" y1="1384.0" x2="436.3" y2="1388.0"/><line x1="447.8" y1="1384.0" x2="447.8" y2="1388.0"/><line x1="459.3" y1="1384.0" x2="459.3" y2="1388.0"/><line x1="470.7" y1="1384.0" x2="470.7" y2="1388.0"/><line x1="482.2" y1="1384.0" x2="482.2" y2="1388.0"/><line x1="493.7" y1="1384.0" x2="493.7" y2="1388.0"/><line x1="505.1" y1="1384.0" x2="505.1" y2="1388.0"/><line x1="516.6" y1="1384.0" x2="516.6" y2="1388.0"/><line x1="528.1" y1="1384.0" x2="528.1" y2="1388.0"/><line x1="539.5" y1="1384.0" x2="539.5" y2="1388.0"/><line x1="551.0" y1="1384.0" x2="551.0" y2="1388.0"/><line x1="562.5" y1="1384.0" x2="562.5" y2="1388.0"/><line x1="573.9" y1="1384.0" x2="573.9" y2="1388.0"/><line x1="585.4" y1="1384.0" x2="585.4" y2="1388.0"/><line x1="596.9" y1="1384.0" x2="596.9" y2="1388.0"/><line x1="608.3" y1="1384.0" x2="608.3" y2="1388.0"/></g><g font-family="Liberation Sans" font-size="10.5" fill="#000" stroke="#000" stroke-width="0.2"><text x="52.0" y="1197.6" text-anchor="end">2,500</text><text x="52.0" y="1235.6" text-anchor="end">2,000</text><text x="52.0" y="1273.6" text-anchor="end">1,500</text><text x="52.0" y="1311.6" text-anchor="end">1,000</text><text x="52.0" y="1349.6" text-anchor="end">500</text><text x="58.0" y="1397.0" text-anchor="middle">00:00</text><text x="103.9" y="1397.0" text-anchor="middle">02:00</text><text x="149.7" y="1397.0" text-anchor="middle">04:00</text><text x="195.6" y="1397.0" text-anchor="middle">06:00</text><text x="241.4" y="1397.0" text-anchor="middle">08:00</text><text x="287.3" y="1397.0" text-anchor="middle">10:00</text><text x="333.2" y="1397.0" text-anchor="middle">12:00</text><text x="379.0" y="1397.0" text-anchor="middle">14:00</text><text x="424.9" y="1397.0" text-anchor="middle">16:00</text><text x="470.7" y="1397.0" text-anchor="middle">18:00</text><text x="516.6" y="1397.0" text-anchor="middle">20:00</text><text x="562.5" y="1397.0" text-anchor="middle">22:00</text><text x="608.3" y="1397.0" text-anchor="middle">00:00</text></g><g><polyline points="58.0,1246.3 69.5,1253.7 80.9,1261.9 92.4,1270.8 103.9,1275.8 115.3,1279.6 126.8,1282.6 138.3,1284.9 149.7,1286.4 161.2,1286.7 172.7,1285.2 184.1,1281.1 195.6,1276.4 207.0,1264.9 218.5,1253.1 230.0,1242.8 241.4,1235.1 252.9,1233.9 264.4,1237.5 275.8,1241.3 287.3,1246.9 298.8,1252.5 310.2,1256.6 321.7,1258.7 333.2,1260.2 344.6,1262.5 356.1,1264.0 367.6,1263.7 379.0,1263.7 390.5,1264.0 401.9,1263.7 413.4,1264.0 424.9,1260.5 436.3,1255.2 447.8,1248.4 459.3,1236.0 470.7,1220.4 482.2,1213.0 493.7,1213.0 505.1,1216.8 516.6,1218.6 528.1,1224.2 539.5,1229.2 551.0,1233.9 562.5,1243.4 573.9,1254.3 585.4,1263.1 596.9,1247.8 608.3,1247.8" fill="none" stroke="#c40f0f" stroke-width="2.4" stroke-linejoin="round" filter="url(#sh)"/></g>
</svg>
<div class="grp" style="left:24px;top:693px">NSW</div><div class="onoff" style="left:172px;top:697px"><a>on</a> | <a>off</a></div><div class="cb" style="left:28px;top:723px"></div><div class="lab" style="left:47px;top:726px;color:#ff0000">CAPITAL (140MW)</div><div class="cb" style="left:28px;top:746px"></div><div class="lab" style="left:47px;top:749px;color:#008000">CULLERIN RANGE (30MW)</div><div class="cb" style="left:28px;top:769px"></div><div class="lab" style="left:47px;top:772px;color:#f4a460">GUNNING (47MW)</div><div class="cb" style="left:28px;top:791px"></div><div class="lab" style="left:47px;top:794px;color:#6a5acd">WOODLAWN (48MW)</div><div class="grp" style="left:24px;top:816px">Vic</div><div class="onoff" style="left:172px;top:820px"><a>on</a> | <a>off</a></div><div class="cb" style="left:28px;top:846px"></div><div class="lab" style="left:47px;top:849px;color:#dc143c">CHALLICUM HILLS (53MW)</div><div class="cb" style="left:28px;top:869px"></div><div class="lab" style="left:47px;top:872px;color:#808000">MACARTHUR (420MW)</div><div class="cb" style="left:28px;top:892px"></div><div class="lab" style="left:47px;top:895px;color:#adff2f">MORTONS LANE (20MW)</div><div class="cb" style="left:28px;top:915px"></div><div class="lab" style="left:47px;top:918px;color:#ff1493">OAKLANDS HILL (67MW)</div><div class="cb" style="left:28px;top:937px"></div><div class="lab" style="left:47px;top:940px;color:#808080">PORTLAND (102MW)</div><div class="cb" style="left:28px;top:960px"></div><div class="lab" style="left:47px;top:963px;color:#808080">WAUBRA (192MW)</div><div class="cb" style="left:28px;top:983px"></div><div class="lab" style="left:47px;top:986px;color:#808080">YAMBUK (30MW)</div><div class="grp" style="left:24px;top:1011px">Tas</div><div class="onoff" style="left:172px;top:1015px"><a>on</a> | <a>off</a></div><div class="cb" style="left:28px;top:1041px"></div><div class="lab" style="left:47px;top:1044px;color:#ff1493">MUSSELROE (168MW)</div><div class="cb" style="left:28px;top:1063px"></div><div class="lab" style="left:47px;top:1066px;color:#8b4513">WOOLNORTH (140MW)</div><div class="grp" style="left:232px;top:693px">SA</div><div class="onoff" style="left:381px;top:697px"><a>on</a> | <a>off</a></div><div class="cb" style="left:237px;top:723px"><svg class="ck" width="11" height="11" viewBox="0 0 11 11"><path d="M1.8 5.2 L4.6 9.6 L9.8 0.8" fill="none" stroke="#3b5596" stroke-width="2" stroke-linejoin="round"/></svg></div><div class="lab" style="left:256px;top:726px;color:#9a8a00">CANUNDA (46MW)</div><div class="cb" style="left:237px;top:746px"><svg class="ck" width="11" height="11" viewBox="0 0 11 11"><path d="M1.8 5.2 L4.6 9.6 L9.8 0.8" fill="none" stroke="#3b5596" stroke-width="2" stroke-linejoin="round"/></svg></div><div class="lab" style="left:256px;top:749px;color:#008b8b">CATHEDRAL ROCKS (66MW)</div><div class="cb" style="left:237px;top:769px"><svg class="ck" width="11" height="11" viewBox="0 0 11 11"><path d="M1.8 5.2 L4.6 9.6 L9.8 0.8" fill="none" stroke="#3b5596" stroke-width="2" stroke-linejoin="round"/></svg></div><div class="lab" style="left:256px;top:772px;color:#800000">CLEMENTS GAP (57MW)</div><div class="cb" style="left:237px;top:791px"><svg class="ck" width="11" height="11" viewBox="0 0 11 11"><path d="M1.8 5.2 L4.6 9.6 L9.8 0.8" fill="none" stroke="#3b5596" stroke-width="2" stroke-linejoin="round"/></svg></div><div class="lab" style="left:256px;top:794px;color:#0000ff">HALLETT 1 (95MW)</div><div class="cb" style="left:237px;top:811px"><svg class="ck" width="11" height="11" viewBox="0 0 11 11"><path d="M1.8 5.2 L4.6 9.6 L9.8 0.8" fill="none" stroke="#3b5596" stroke-width="2" stroke-linejoin="round"/></svg></div><div class="lab" style="left:256px;top:814px;color:#bc8f8f">HALLETT 2 (71MW)</div><div class="cb" style="left:237px;top:834px"><svg class="ck" width="11" height="11" viewBox="0 0 11 11"><path d="M1.8 5.2 L4.6 9.6 L9.8 0.8" fill="none" stroke="#3b5596" stroke-width="2" stroke-linejoin="round"/></svg></div><div class="lab" style="left:256px;top:837px;color:#c71585">LAKE BONNEY 1 (81MW)</div><div class="cb" style="left:237px;top:857px"><svg class="ck" width="11" height="11" viewBox="0 0 11 11"><path d="M1.8 5.2 L4.6 9.6 L9.8 0.8" fill="none" stroke="#3b5596" stroke-width="2" stroke-linejoin="round"/></svg></div><div class="lab" style="left:256px;top:860px;color:#ffd700">LAKE BONNEY 2 (159MW)</div><div class="cb" style="left:237px;top:879px"><svg class="ck" width="11" height="11" viewBox="0 0 11 11"><path d="M1.8 5.2 L4.6 9.6 L9.8 0.8" fill="none" stroke="#3b5596" stroke-width="2" stroke-linejoin="round"/></svg></div><div class="lab" style="left:256px;top:882px;color:#ff8c00">LAKE BONNEY 3 (39MW)</div><div class="cb" style="left:237px;top:902px"><svg class="ck" width="11" height="11" viewBox="0 0 11 11"><path d="M1.8 5.2 L4.6 9.6 L9.8 0.8" fill="none" stroke="#3b5596" stroke-width="2" stroke-linejoin="round"/></svg></div><div class="lab" style="left:256px;top:905px;color:#800080">MT MILLAR (70MW)</div><div class="cb" style="left:237px;top:925px"><svg class="ck" width="11" height="11" viewBox="0 0 11 11"><path d="M1.8 5.2 L4.6 9.6 L9.8 0.8" fill="none" stroke="#3b5596" stroke-width="2" stroke-linejoin="round"/></svg></div><div class="lab" style="left:256px;top:928px;color:#1e90ff">NORTH BROWN HILL (132MW)</div><div class="cb" style="left:237px;top:948px"><svg class="ck" width="11" height="11" viewBox="0 0 11 11"><path d="M1.8 5.2 L4.6 9.6 L9.8 0.8" fill="none" stroke="#3b5596" stroke-width="2" stroke-linejoin="round"/></svg></div><div class="lab" style="left:256px;top:951px;color:#4b0082">SNOWTOWN (99MW)</div><div class="cb" style="left:237px;top:970px"><svg class="ck" width="11" height="11" viewBox="0 0 11 11"><path d="M1.8 5.2 L4.6 9.6 L9.8 0.8" fill="none" stroke="#3b5596" stroke-width="2" stroke-linejoin="round"/></svg></div><div class="lab" style="left:256px;top:973px;color:#bdb76b">STARFISH HILL (35MW)</div><div class="cb" style="left:237px;top:993px"><svg class="ck" width="11" height="11" viewBox="0 0 11 11"><path d="M1.8 5.2 L4.6 9.6 L9.8 0.8" fill="none" stroke="#3b5596" stroke-width="2" stroke-linejoin="round"/></svg></div><div class="lab" style="left:256px;top:996px;color:#ff4500">THE BLUFF (53MW)</div><div class="cb" style="left:237px;top:1016px"><svg class="ck" width="11" height="11" viewBox="0 0 11 11"><path d="M1.8 5.2 L4.6 9.6 L9.8 0.8" fill="none" stroke="#3b5596" stroke-width="2" stroke-linejoin="round"/></svg></div><div class="lab" style="left:256px;top:1019px;color:#00ee00">WATERLOO (111MW)</div><div class="cb" style="left:237px;top:1039px"><svg class="ck" width="11" height="11" viewBox="0 0 11 11"><path d="M1.8 5.2 L4.6 9.6 L9.8 0.8" fill="none" stroke="#3b5596" stroke-width="2" stroke-linejoin="round"/></svg></div><div class="lab" style="left:256px;top:1042px;color:#4682b4">WATTLE POINT (91MW)</div><div class="grp" style="left:442px;top:693px">Totals</div><div class="onoff" style="left:590px;top:697px"><a>on</a> | <a>off</a></div><div class="cb" style="left:446px;top:723px"></div><div class="lab" style="left:465px;top:726px;color:#555555">SELECTED (0MW)</div><div class="cb" style="left:446px;top:746px"></div><div class="lab" style="left:465px;top:749px;color:#000000">ALL (2660MW)</div><div class="vdiv" style="left:223px;top:684px;height:372px"></div><div class="vdiv" style="left:433px;top:684px;height:372px"></div>
<div class="cb" style="left:143px;top:1437px"></div><div class="lab" style="left:161px;top:1439px;color:#0000cc">NSW</div><div class="cb" style="left:198px;top:1437px"></div><div class="lab" style="left:217px;top:1439px;color:#8b0000">QLD</div><div class="cb" style="left:252px;top:1437px"><svg class="ck" width="11" height="11" viewBox="0 0 11 11"><path d="M1.8 5.2 L4.6 9.6 L9.8 0.8" fill="none" stroke="#3b5596" stroke-width="2" stroke-linejoin="round"/></svg></div><div class="lab" style="left:270px;top:1439px;color:#dd0000">SA</div><div class="cb" style="left:297px;top:1437px"></div><div class="lab" style="left:316px;top:1439px;color:#b8a000">TAS</div><div class="cb" style="left:349px;top:1437px"></div><div class="lab" style="left:368px;top:1439px;color:#00cc00">VIC</div><div class="cb" style="left:399px;top:1437px"></div><div class="lab" style="left:417px;top:1439px;color:#555555">SELECTED</div><div class="cb" style="left:480px;top:1437px"></div><div class="lab" style="left:499px;top:1439px;color:#000000">ALL</div>
<div class="sbox" style="top:11px;height:265px"></div>
<div class="sbox" style="top:291px;height:265px"></div>
<div class="sbox" style="top:571px;height:903px;border-radius:9px 9px 0 0"></div>
<div class="sh" style="top:21.5px">Jul 24 Synoptic Analysis</div>
<div class="a" style="left:673px;top:48px;width:287px;height:194px;background:#fff;border:1.5px solid #222;border-right-color:#666;border-bottom-color:#555;overflow:hidden"><svg width="295" height="200" viewBox="0 0 984 667" style="position:absolute;left:-3px;top:-3px"><path d="M40 12 C43 43 56 135 60 200 C64 265 67 323 65 400 C63 477 52 617 50 660 M170 12 C173 43 186 135 190 200 C194 265 197 323 195 400 C193 477 182 617 180 660 M300 12 C303 43 316 135 320 200 C324 265 327 323 325 400 C323 477 312 617 310 660 M430 12 C433 43 446 135 450 200 C454 265 457 323 455 400 C453 477 442 617 440 660 M560 12 C563 43 576 135 580 200 C584 265 587 323 585 400 C583 477 572 617 570 660 M680 12 C683 43 696 135 700 200 C704 265 707 323 705 400 C703 477 692 617 690 660 M800 12 C803 43 816 135 820 200 C824 265 827 323 825 400 C823 477 812 617 810 660 M920 12 C923 43 936 135 940 200 C944 265 947 323 945 400 C943 477 932 617 930 660 M12 90 C52 85 170 68 250 60 C330 52 410 45 490 45 C570 45 650 52 730 60 C810 68 930 85 970 90 M12 220 C52 215 170 198 250 190 C330 182 410 175 490 175 C570 175 650 182 730 190 C810 198 930 215 970 220 M12 350 C52 345 170 328 250 320 C330 312 410 305 490 305 C570 305 650 312 730 320 C810 328 930 345 970 350 M12 480 C52 475 170 458 250 450 C330 442 410 435 490 435 C570 435 650 442 730 450 C810 458 930 475 970 480 M12 610 C52 605 170 588 250 580 C330 572 410 565 490 565 C570 565 650 572 730 580 C810 588 930 605 970 610" fill="none" stroke="#555" stroke-width="3.2" stroke-dasharray="0.5 13" stroke-linecap="round"/><path d="M13 0 L13 0" fill="none" stroke="#111" stroke-width="3" stroke-linejoin="round" stroke-linecap="round"/><path d="M254 214 L249 188 L285 168 L351 132 L366 112 L407 71 L442 81 L458 51 L447 30 L484 36 L535 46 L530 76 L575 117 L606 81 L621 36 L636 86 L657 127 L692 198 L723 249 L728 305 L707 327 L687 358 L656 398 L636 403 L611 383 L575 388 L565 347 L535 353 L514 337 L484 317 L460 300 L400 297 L330 290 L300 300 L280 275 L254 214" fill="none" stroke="#111" stroke-width="2.4" stroke-linejoin="round" stroke-linecap="round"/><path d="M606 439 L636 434 L631 474 L611 469 L606 439" fill="none" stroke="#111" stroke-width="2.4" stroke-linejoin="round" stroke-linecap="round"/><path d="M911 429 L935 460 L952 495 L916 520 L900 500 L930 480" fill="none" stroke="#111" stroke-width="2.4" stroke-linejoin="round" stroke-linecap="round"/><path d="M440 86 L440 300 M555 112 L555 234 M440 234 L580 239 L580 334 M580 280 L723 290 M440 178 L500 178 M440 231 L500 231" fill="none" stroke="#333" stroke-width="2"/><path d="M13 109 C19 105 39 96 51 86 C63 76 73 60 86 51 C99 42 117 35 127 30 C137 25 135 23 147 20 C159 17 191 13 200 12" fill="none" stroke="#111" stroke-width="3" stroke-linejoin="round" stroke-linecap="round"/><path d="M13 150 C24 150 53 158 76 153 C99 148 128 125 153 117 C178 109 207 114 229 107 C251 100 264 86 285 76 C306 66 334 53 356 46 C378 39 396 35 417 33 C438 31 473 36 484 36" fill="none" stroke="#111" stroke-width="3" stroke-linejoin="round" stroke-linecap="round"/><path d="M13 196 C22 198 47 207 66 208 C85 209 101 204 127 203 C153 202 198 207 224 201 C250 195 275 174 285 168" fill="none" stroke="#111" stroke-width="3" stroke-linejoin="round" stroke-linecap="round"/><path d="M292 249 C303 239 337 205 356 188 C375 171 392 158 407 147 C422 136 432 130 447 125 C462 120 483 112 500 114 C517 116 532 130 550 137 C568 144 592 148 611 153 C630 158 645 157 662 168 C679 179 699 194 712 219 C725 244 734 290 738 315 C742 340 736 351 733 368 C730 385 727 402 718 419 C709 436 695 456 677 469 C659 482 635 492 611 495 C587 498 556 496 535 490 C514 484 500 471 484 459 C468 447 452 435 440 420 C428 405 415 378 410 370" fill="none" stroke="#111" stroke-width="3" stroke-linejoin="round" stroke-linecap="round"/><path d="M392 305 C394 291 394 240 402 219 C410 198 426 185 442 178 C458 171 483 173 500 175 C517 177 526 181 545 188 C564 195 592 206 611 219 C630 232 650 245 662 264 C674 283 680 310 682 334 C684 358 685 390 677 408 C669 426 651 435 636 444 C621 453 602 462 585 464 C568 466 548 462 535 454 C522 446 515 431 504 419 C493 407 482 392 470 380 C458 368 443 362 430 350 C417 338 398 312 392 305" fill="none" stroke="#111" stroke-width="3" stroke-linejoin="round" stroke-linecap="round"/><path d="M470 300 C472 291 476 258 483 244 C490 230 504 217 514 214 C524 211 532 214 545 224 C558 234 577 256 590 275 C603 294 622 318 625 340 C628 362 621 393 610 410 C599 427 578 438 560 440 C542 442 515 433 500 420 C485 407 475 380 470 360 C465 340 470 310 470 300" fill="none" stroke="#111" stroke-width="3" stroke-linejoin="round" stroke-linecap="round"/><path d="M484 76 C492 76 510 77 535 76 C560 75 611 68 636 71 C661 74 670 84 687 97 C704 110 721 134 738 147 C755 160 776 168 789 173 C802 178 806 168 814 175 C822 182 834 200 840 214 C846 228 852 246 850 259 C848 272 838 286 830 295 C822 304 811 310 799 315 C787 320 765 323 758 325" fill="none" stroke="#111" stroke-width="3" stroke-linejoin="round" stroke-linecap="round"/><path d="M774 15 C783 23 811 48 830 61 C849 74 868 84 890 92 C912 100 950 109 962 112" fill="none" stroke="#111" stroke-width="3" stroke-linejoin="round" stroke-linecap="round"/><path d="M13 270 C21 269 45 263 60 262 C75 261 88 257 102 262 C116 267 145 280 145 290 C145 300 118 318 102 325 C86 332 65 330 50 330 C35 330 19 326 13 325" fill="none" stroke="#111" stroke-width="3" stroke-linejoin="round" stroke-linecap="round"/><path d="M860 264 C868 259 892 236 906 234 C920 232 934 242 941 254 C948 266 953 292 951 305 C949 318 940 328 930 330 C920 332 902 331 890 320 C878 309 865 273 860 264" fill="none" stroke="#111" stroke-width="3" stroke-linejoin="round" stroke-linecap="round"/><path d="M13 353 C28 351 70 343 102 342 C134 341 172 348 203 347 C234 346 264 342 285 337 C306 332 322 323 330 320" fill="none" stroke="#111" stroke-width="3" stroke-linejoin="round" stroke-linecap="round"/><path d="M13 383 C24 382 53 381 76 378 C99 375 128 367 153 363 C178 359 204 353 229 353 C254 353 284 363 305 363 C326 363 348 355 356 353" fill="none" stroke="#111" stroke-width="3" stroke-linejoin="round" stroke-linecap="round"/><path d="M13 408 C19 408 32 404 51 406 C70 408 102 422 127 419 C152 416 178 396 203 388 C228 380 254 374 280 373 C306 372 338 375 356 383 C374 391 381 413 386 419" fill="none" stroke="#111" stroke-width="3" stroke-linejoin="round" stroke-linecap="round"/><path d="M13 426 C24 427 53 430 76 434 C99 438 130 449 153 449 C176 449 196 439 214 434 C232 429 244 421 264 419 C284 417 314 418 331 424 C348 430 358 438 366 454 C374 470 378 509 381 520" fill="none" stroke="#111" stroke-width="3" stroke-linejoin="round" stroke-linecap="round"/><path d="M13 444 C28 448 76 462 102 469 C128 476 148 488 168 485 C188 482 200 462 219 454 C238 446 265 433 285 434 C305 435 328 445 341 459 C354 473 360 505 366 520 C372 535 374 546 376 551" fill="none" stroke="#111" stroke-width="3" stroke-linejoin="round" stroke-linecap="round"/><path d="M31 470 C43 475 80 495 102 500 C124 505 144 505 163 500 C182 495 199 477 219 469 C239 461 267 451 285 454 C303 457 315 471 325 485 C335 499 342 524 346 536 C350 548 350 553 351 556" fill="none" stroke="#111" stroke-width="3" stroke-linejoin="round" stroke-linecap="round"/><path d="M214 556 C216 544 216 500 229 485 C242 470 275 461 290 464 C305 467 313 490 320 505 C327 520 329 548 331 556" fill="none" stroke="#111" stroke-width="3" stroke-linejoin="round" stroke-linecap="round"/><path d="M244 556 C246 548 246 521 254 510 C262 499 281 488 290 490 C299 492 307 509 310 520 C313 531 310 550 310 556" fill="none" stroke="#111" stroke-width="3" stroke-linejoin="round" stroke-linecap="round"/><path d="M13 444 C17 448 30 457 36 470 C42 483 46 506 51 520 C56 534 64 550 66 556" fill="none" stroke="#111" stroke-width="3" stroke-linejoin="round" stroke-linecap="round"/><path d="M20 490 C22 495 28 509 31 520 C34 531 37 550 38 556" fill="none" stroke="#111" stroke-width="3" stroke-linejoin="round" stroke-linecap="round"/><path d="M386 317 C394 326 420 347 432 368 C444 389 452 419 458 444 C464 469 461 499 468 520 C475 541 491 554 500 571 C509 588 514 607 520 620 C526 633 532 642 535 647" fill="none" stroke="#111" stroke-width="3" stroke-linejoin="round" stroke-linecap="round"/><path d="M417 317 C424 324 446 341 458 358 C470 375 481 404 488 419 C495 434 495 436 500 449 C505 462 510 485 520 500 C530 515 553 533 560 540" fill="none" stroke="#111" stroke-width="3" stroke-linejoin="round" stroke-linecap="round"/><path d="M447 317 C453 322 474 337 483 347 C492 357 497 373 500 378" fill="none" stroke="#111" stroke-width="3" stroke-linejoin="round" stroke-linecap="round"/><path d="M407 368 C412 381 430 417 437 444 C444 471 444 500 447 530 C450 560 454 600 458 622 C462 644 468 654 470 660" fill="none" stroke="#111" stroke-width="3" stroke-linejoin="round" stroke-linecap="round"/><path d="M395 600 C399 607 414 629 420 640 C426 651 428 661 430 665" fill="none" stroke="#111" stroke-width="3" stroke-linejoin="round" stroke-linecap="round"/><path d="M484 505 C497 509 535 528 560 530 C585 532 613 527 636 520 C659 513 679 504 697 490 C715 476 733 454 743 434 C753 414 756 388 758 368 C760 348 758 326 758 317" fill="none" stroke="#111" stroke-width="3" stroke-linejoin="round" stroke-linecap="round"/><path d="M484 536 C501 540 553 559 585 561 C617 563 652 556 677 546 C702 536 721 516 738 500 C755 484 768 461 778 449 C788 437 789 432 799 429 C809 426 825 431 840 434 C855 437 870 444 890 449 C910 454 950 462 962 464" fill="none" stroke="#111" stroke-width="3" stroke-linejoin="round" stroke-linecap="round"/><path d="M484 566 C505 570 576 590 611 591 C646 592 671 581 697 571 C723 561 744 540 768 530 C792 520 820 515 840 510 C860 505 870 500 890 500 C910 500 950 508 962 510" fill="none" stroke="#111" stroke-width="3" stroke-linejoin="round" stroke-linecap="round"/><path d="M484 601 C505 604 574 619 611 617 C648 615 677 600 707 591 C737 582 760 567 789 561 C818 555 851 557 880 556 C909 555 948 556 962 556" fill="none" stroke="#111" stroke-width="3" stroke-linejoin="round" stroke-linecap="round"/><path d="M535 647 C560 643 645 631 687 622 C729 613 755 597 789 591 C823 585 861 584 890 586 C919 588 950 598 962 601" fill="none" stroke="#111" stroke-width="3" stroke-linejoin="round" stroke-linecap="round"/><path d="M636 667 C653 661 704 640 738 632 C772 624 803 622 840 622 C877 622 942 630 962 632" fill="none" stroke="#111" stroke-width="3" stroke-linejoin="round" stroke-linecap="round"/><path d="M560 632 C573 635 602 648 636 652 C670 656 742 656 763 657" fill="none" stroke="#111" stroke-width="3" stroke-linejoin="round" stroke-linecap="round"/><path d="M470 640 C485 638 528 632 560 625 C592 618 630 611 660 600 C690 589 717 570 740 560 C763 550 777 545 800 540 C823 535 853 530 880 530 C907 530 948 538 962 540" fill="none" stroke="#111" stroke-width="3" stroke-linejoin="round" stroke-linecap="round"/><path d="M600 667 C617 662 668 650 700 640 C732 630 762 616 790 610 C818 604 841 604 870 605 C899 606 947 613 962 615" fill="none" stroke="#111" stroke-width="3" stroke-linejoin="round" stroke-linecap="round"/><path d="M700 667 C715 663 760 649 790 645 C820 641 851 644 880 645 C909 646 948 649 962 650" fill="none" stroke="#111" stroke-width="3" stroke-linejoin="round" stroke-linecap="round"/><path d="M580 667 C583 662 592 647 600 640 C608 633 625 628 630 625" fill="none" stroke="#111" stroke-width="2.4" stroke-linejoin="round" stroke-linecap="round"/><path d="M605 667 C608 662 617 647 625 640 C633 633 650 628 655 625" fill="none" stroke="#111" stroke-width="2.4" stroke-linejoin="round" stroke-linecap="round"/><path d="M630 667 C633 662 642 647 650 640 C658 633 675 628 680 625" fill="none" stroke="#111" stroke-width="2.4" stroke-linejoin="round" stroke-linecap="round"/><path d="M655 667 C658 662 667 647 675 640 C683 633 700 628 705 625" fill="none" stroke="#111" stroke-width="2.4" stroke-linejoin="round" stroke-linecap="round"/><path d="M440 25 q20 -10 40 5 q10 10 30 0 M540 15 q15 10 30 0 M668 20 l20 25 l15 -5 l10 25 M700 40 l30 30 l10 30 M880 160 l8 12 M905 205 q5 10 10 0" fill="none" stroke="#111" stroke-width="3"/><g font-family="Liberation Sans" fill="#000" text-anchor="middle"><text x="829" y="445" font-size="24">L</text><text x="293" y="500" font-size="14">x</text></g><path d="M13 447 C19 452 38 462 51 480 C64 498 82 536 92 556 C102 576 104 583 110 600 C116 617 122 650 125 660" fill="none" stroke="#111" stroke-width="4.5" stroke-linejoin="round" stroke-linecap="round"/><path d="M315 277 C322 284 346 300 356 317 C366 334 372 357 376 378 C380 399 381 422 381 444 C381 466 378 492 376 510 C374 528 369 536 366 551 C363 566 361 592 360 600" fill="none" stroke="#111" stroke-width="4.5" stroke-linejoin="round" stroke-linecap="round"/><path d="M682 490 C690 493 714 500 728 510 C742 520 758 536 768 551 C778 566 783 582 789 601 C795 620 802 656 804 667" fill="none" stroke="#111" stroke-width="4.5" stroke-linejoin="round" stroke-linecap="round"/><path d="M565 632 C579 636 632 651 651 657 C670 663 675 665 680 667" fill="none" stroke="#111" stroke-width="4.5" stroke-linejoin="round" stroke-linecap="round"/><path d="M395 578 L430 570" fill="none" stroke="#111" stroke-width="4.5" stroke-linejoin="round" stroke-linecap="round"/><path d="M381 508 L422 520" fill="none" stroke="#111" stroke-width="3" stroke-linejoin="round" stroke-linecap="round"/><path d="M31 454 L76 434" fill="none" stroke="#111" stroke-width="3" stroke-linejoin="round" stroke-linecap="round"/><path d="M183 170 C192 178 221 203 240 220 C259 237 286 262 295 270" fill="none" stroke="#111" stroke-width="3.5" stroke-dasharray="8 6" stroke-linejoin="round" stroke-linecap="round"/><path d="M356 244 C359 252 367 275 372 290 C377 305 384 326 386 333" fill="none" stroke="#111" stroke-width="3.5" stroke-dasharray="8 6" stroke-linejoin="round" stroke-linecap="round"/><path d="M758 317 C765 327 788 358 799 378 C810 398 817 412 824 434 C831 456 836 493 840 510 C844 527 844 532 845 536" fill="none" stroke="#111" stroke-width="3.5" stroke-dasharray="8 6" stroke-linejoin="round" stroke-linecap="round"/><path d="M855 317 C861 326 880 348 890 368 C900 388 912 409 916 434 C920 459 914 489 911 520 C908 551 904 598 901 622 C898 646 897 660 896 667" fill="none" stroke="#111" stroke-width="3.5" stroke-dasharray="8 6" stroke-linejoin="round" stroke-linecap="round"/><path d="M318 280 l-13 5 l5 -13 Z M340 300 l-13 5 l5 -13 Z M370 350 l-13 5 l5 -13 Z M380 410 l-13 5 l5 -13 Z M380 470 l-13 5 l5 -13 Z M372 530 l-13 5 l5 -13 Z M690 492 l10 -10 l3 14 Z M738 520 l10 -10 l3 14 Z M770 560 l10 -10 l3 14 Z M790 610 l10 -10 l3 14 Z M40 470 l13 -4 l-3 13 Z M70 505 l13 -4 l-3 13 Z M92 550 l13 -4 l-3 13 Z M76 434 l-14 -2 l8 12 Z M422 520 l-12 -8 l0 14 Z M430 570 l-14 -6 l2 14 Z" fill="#111"/><rect x="12" y="553" width="382" height="110" fill="#fff"/><g font-family="Liberation Serif" fill="#111"><text x="19" y="562" font-size="14" textLength="369" lengthAdjust="spacingAndGlyphs">National Meteorological and Oceanographic Centre</text><text x="19" y="578" font-size="14" textLength="161" lengthAdjust="spacingAndGlyphs">Bureau of Meteorology</text><text x="19" y="602" font-size="22" textLength="286" lengthAdjust="spacingAndGlyphs">MSLP Analysis (hPa)</text><text x="19" y="624" font-size="22" textLength="288" lengthAdjust="spacingAndGlyphs">Valid: 0000 UTC 24 Jul 2013</text><text x="82" y="648" font-size="22" textLength="234" lengthAdjust="spacingAndGlyphs">10AM EST 24/Jul/2013</text></g><g font-family="Liberation Sans" fill="#000" text-anchor="middle" stroke="#000" stroke-width="0.6"><text x="57" y="295" font-size="34">H</text><text x="57" y="305" font-size="16">x</text><text x="58" y="340" font-size="34" letter-spacing="1.5">1025</text><text x="540" y="378" font-size="34">H</text><text x="545" y="424" font-size="34" letter-spacing="1.5">1034</text><text x="293" y="488" font-size="26">L</text><text x="292" y="530" font-size="34" letter-spacing="1.5">987</text><text x="913" y="280" font-size="34">H</text><text x="915" y="324" font-size="34" letter-spacing="1.5">1017</text><text x="826" y="492" font-size="34" letter-spacing="1.5">1011</text><text x="842" y="565" font-size="34" letter-spacing="1.5">1007</text></g><g font-family="Liberation Serif" fill="#222" font-size="12"><text x="130" y="30">140E</text><text x="268" y="30">120E</text><text x="405" y="30">130E</text><text x="548" y="30">140E</text><text x="675" y="30">150E</text><text x="935" y="90">105</text><text x="930" y="232">205</text><text x="930" y="370">305</text><text x="78" y="415">40S</text><text x="430" y="335" transform="rotate(60 430 335)">1028</text><text x="400" y="460" transform="rotate(70 400 460)">1012</text><text x="710" y="360" transform="rotate(-80 710 360)">1020</text><text x="715" y="583" transform="rotate(-20 715 583)">1004</text><text x="748" y="610" transform="rotate(-25 748 610)">996</text><text x="746" y="655">988</text><text x="215" y="450" transform="rotate(-30 215 450)">1004</text><text x="215" y="530" transform="rotate(-80 215 530)">996</text></g></svg></div>
<div class="src">source: <a>Bureau of Meteorology</a></div>
<div class="sh" style="top:301.5px">Wind Farm Location Map</div>
<svg width="300" height="225" viewBox="0 0 984 738" style="position:absolute;left:670px;top:325px"><defs><clipPath id="mc"><rect x="10" y="10" width="950" height="712"/></clipPath></defs><g clip-path="url(#mc)"><defs><linearGradient id="tw" x1="0" x2="1"><stop offset="0" stop-color="#999"/><stop offset="0.25" stop-color="#fff"/><stop offset="0.5" stop-color="#aaa"/><stop offset="0.75" stop-color="#222"/><stop offset="1" stop-color="#000"/></linearGradient><pattern id="sp" width="17" height="15" patternUnits="userSpaceOnUse"><circle cx="3" cy="4" r="2.2" fill="#a9c28f"/><circle cx="11" cy="8" r="1.9" fill="#b4ca9b"/><circle cx="15" cy="2" r="1.4" fill="#a0bc86"/><circle cx="6" cy="12" r="2" fill="#b4ca9b"/><circle cx="14" cy="13" r="1.3" fill="#e9ecd2"/></pattern><filter id="tb"><feGaussianBlur stdDeviation="3"/></filter><linearGradient id="bar" x1="0" x2="1"><stop offset="0" stop-color="#fff" stop-opacity="0"/><stop offset="0.35" stop-color="#fff" stop-opacity="0.55"/><stop offset="1" stop-color="#fff" stop-opacity="0.6"/></linearGradient></defs><rect x="10" y="10" width="950" height="712" fill="#99b3cc"/><path d="M10 10 L880 10 L876 40 L856 125 L816 200 L776 280 L763 312 L748 337 L743 402 L728 422 L668 437 L628 462 L598 472 L573 457 L563 432 L543 442 L503 472 L453 447 L408 427 L395 400 L370 350 L340 325 L300 300 L265 305 L240 292 L210 277 L196 257 L183 237 L160 210 L143 183 L110 167 L60 153 L10 143 Z" fill="#e0e4bf"/><path d="M262 270 L282 92 L292 96 L284 200 L270 280 Z M372 12 L405 12 L418 48 L398 62 L380 40 Z" fill="#99b3cc"/><path d="M240 330 Q270 318 300 325 Q305 340 270 345 Q245 345 240 330 Z" fill="#dfe4c0"/><path d="M548 567 L578 572 L608 592 L668 572 L683 592 L678 662 L653 707 L608 712 L578 672 L553 612 Z" fill="#d6dfb6"/><path d="M548 567 L578 572 L608 592 L668 572 L683 592 L678 662 L653 707 L608 712 L578 672 L553 612 Z" fill="url(#sp)"/><path d="M515 515 l8 0 l2 14 l-8 2 Z M668 525 l10 4 l6 14 l-8 2 Z" fill="#d5dfb5"/><path d="M700 10 L880 10 L876 40 L856 125 L816 200 L776 280 L763 312 L748 337 L743 402 L728 422 L668 437 L628 462 L598 472 L573 457 L563 432 L553 400 L590 400 L650 350 L700 300 L716 200 L700 100 Z" fill="#d3ddb2"/><path d="M700 10 L880 10 L876 40 L856 125 L816 200 L776 280 L763 312 L748 337 L743 402 L728 422 L668 437 L628 462 L598 472 L573 457 L563 432 L553 400 L590 400 L650 350 L700 300 L716 200 L700 100 Z" fill="url(#sp)"/><path d="M790 10 L880 10 L876 40 L856 125 L816 200 L776 280 L763 312 L748 337 L743 402 L728 422 L700 430 L700 380 L740 300 L780 200 L800 120 Z" fill="#c0d1a0" opacity="0.7"/><path d="M790 10 L880 10 L876 40 L856 125 L816 200 L776 280 L763 312 L748 337 L743 402 L728 422 L700 430 L700 380 L740 300 L780 200 L800 120 Z" fill="url(#sp)"/><path d="M408 427 L453 447 L503 472 L520 455 L480 420 L420 400 Z" fill="#cfdcae" opacity="0.8"/><path d="M430 40 Q520 60 600 30 L700 20 L700 100 Q600 120 500 90 Z" fill="#d8ddb6" opacity="0.5"/><path d="M410 30 L410 330 M410 30 L880 30 M410 290 Q500 310 560 340 Q640 360 720 400" fill="none" stroke="#fafaf0" stroke-width="2.5" stroke-dasharray="8 5" opacity="0.9"/><g font-family="Liberation Sans" fill="#3a3a3a" stroke="#f4f4ee" stroke-width="5" paint-order="stroke" stroke-linejoin="round"><text x="135" y="70" textLength="95" lengthAdjust="spacingAndGlyphs" font-size="33">South</text><text x="112" y="104" textLength="143" lengthAdjust="spacingAndGlyphs" font-size="33">Australia</text><text x="520" y="186" textLength="172" lengthAdjust="spacingAndGlyphs" font-size="33">New South</text><text x="555" y="218" textLength="100" lengthAdjust="spacingAndGlyphs" font-size="33">Wales</text><text x="468" y="400" textLength="122" lengthAdjust="spacingAndGlyphs" font-size="33">Victoria</text><text x="765" y="346" textLength="160" lengthAdjust="spacingAndGlyphs" font-size="33">Australian</text><text x="790" y="379" textLength="110" lengthAdjust="spacingAndGlyphs" font-size="33">Capital</text><text x="778" y="412" textLength="130" lengthAdjust="spacingAndGlyphs" font-size="33">Territory</text><text x="538" y="638" textLength="154" lengthAdjust="spacingAndGlyphs" font-size="33">Tasmania</text><text x="8" y="362" textLength="84" lengthAdjust="spacingAndGlyphs" font-size="33" font-style="italic">Great</text><text x="8" y="395" textLength="124" lengthAdjust="spacingAndGlyphs" font-size="33" font-style="italic">stralian</text><text x="8" y="428" textLength="84" lengthAdjust="spacingAndGlyphs" font-size="33" font-style="italic">Bight</text></g><line x1="730" y1="333" x2="765" y2="343" stroke="#b03030" stroke-width="2"/><polygon points="334,130 348,130 352,226 334,226" fill="#000" opacity="0.75" filter="url(#tb)"/><polygon points="323,128 337,128 341,216 319,216" fill="url(#tw)" stroke="#222" stroke-width="1.5"/><line x1="333" y1="132" x2="395.7" y2="92.8" stroke="#000" stroke-width="8.8" opacity="0.3"/><line x1="330" y1="128" x2="392.7" y2="88.8" stroke="#2a2a2a" stroke-width="6.2" stroke-linecap="round"/><line x1="330" y1="128" x2="392.7" y2="88.8" stroke="#ccc" stroke-width="1.9" stroke-dasharray="5 3"/><line x1="333" y1="132" x2="302.7" y2="110.8" stroke="#000" stroke-width="8.8" opacity="0.3"/><line x1="330" y1="128" x2="299.7" y2="106.8" stroke="#2a2a2a" stroke-width="6.2" stroke-linecap="round"/><line x1="330" y1="128" x2="299.7" y2="106.8" stroke="#ccc" stroke-width="1.9" stroke-dasharray="5 3"/><line x1="333" y1="132" x2="304.4" y2="193.4" stroke="#000" stroke-width="8.8" opacity="0.3"/><line x1="330" y1="128" x2="301.4" y2="189.4" stroke="#2a2a2a" stroke-width="6.2" stroke-linecap="round"/><line x1="330" y1="128" x2="301.4" y2="189.4" stroke="#ccc" stroke-width="1.9" stroke-dasharray="5 3"/><rect x="321.024" y="125" width="19.448" height="7" fill="#eee"/><polygon points="309,137 323,137 327,233 309,233" fill="#000" opacity="0.75" filter="url(#tb)"/><polygon points="298,135 312,135 316,223 294,223" fill="url(#tw)" stroke="#222" stroke-width="1.5"/><line x1="308" y1="139" x2="370.7" y2="99.8" stroke="#000" stroke-width="8.8" opacity="0.3"/><line x1="305" y1="135" x2="367.7" y2="95.8" stroke="#2a2a2a" stroke-width="6.2" stroke-linecap="round"/><line x1="305" y1="135" x2="367.7" y2="95.8" stroke="#ccc" stroke-width="1.9" stroke-dasharray="5 3"/><line x1="308" y1="139" x2="277.7" y2="117.8" stroke="#000" stroke-width="8.8" opacity="0.3"/><line x1="305" y1="135" x2="274.7" y2="113.8" stroke="#2a2a2a" stroke-width="6.2" stroke-linecap="round"/><line x1="305" y1="135" x2="274.7" y2="113.8" stroke="#ccc" stroke-width="1.9" stroke-dasharray="5 3"/><line x1="308" y1="139" x2="279.4" y2="200.4" stroke="#000" stroke-width="8.8" opacity="0.3"/><line x1="305" y1="135" x2="276.4" y2="196.4" stroke="#2a2a2a" stroke-width="6.2" stroke-linecap="round"/><line x1="305" y1="135" x2="276.4" y2="196.4" stroke="#ccc" stroke-width="1.9" stroke-dasharray="5 3"/><rect x="296.024" y="132" width="19.448" height="7" fill="#eee"/><polygon points="209,194 223,194 227,292 209,292" fill="#000" opacity="0.75" filter="url(#tb)"/><polygon points="198,192 212,192 216,282 194,282" fill="url(#tw)" stroke="#222" stroke-width="1.5"/><line x1="208" y1="196" x2="272.1" y2="155.9" stroke="#000" stroke-width="9.0" opacity="0.3"/><line x1="205" y1="192" x2="269.1" y2="151.9" stroke="#2a2a2a" stroke-width="6.3" stroke-linecap="round"/><line x1="205" y1="192" x2="269.1" y2="151.9" stroke="#ccc" stroke-width="2.0" stroke-dasharray="5 3"/><line x1="208" y1="196" x2="177.0" y2="174.3" stroke="#000" stroke-width="9.0" opacity="0.3"/><line x1="205" y1="192" x2="174.0" y2="170.3" stroke="#2a2a2a" stroke-width="6.3" stroke-linecap="round"/><line x1="205" y1="192" x2="174.0" y2="170.3" stroke="#ccc" stroke-width="2.0" stroke-dasharray="5 3"/><line x1="208" y1="196" x2="178.7" y2="258.8" stroke="#000" stroke-width="9.0" opacity="0.3"/><line x1="205" y1="192" x2="175.7" y2="254.8" stroke="#2a2a2a" stroke-width="6.3" stroke-linecap="round"/><line x1="205" y1="192" x2="175.7" y2="254.8" stroke="#ccc" stroke-width="2.0" stroke-dasharray="5 3"/><rect x="195.82" y="189" width="19.89" height="7" fill="#eee"/><polygon points="254,152 268,152 272,252 254,252" fill="#000" opacity="0.75" filter="url(#tb)"/><polygon points="243,150 257,150 261,242 239,242" fill="url(#tw)" stroke="#222" stroke-width="1.5"/><line x1="253" y1="154" x2="318.5" y2="113.0" stroke="#000" stroke-width="9.2" opacity="0.3"/><line x1="250" y1="150" x2="315.5" y2="109.0" stroke="#2a2a2a" stroke-width="6.4" stroke-linecap="round"/><line x1="250" y1="150" x2="315.5" y2="109.0" stroke="#ccc" stroke-width="2.0" stroke-dasharray="5 3"/><line x1="253" y1="154" x2="221.3" y2="131.8" stroke="#000" stroke-width="9.2" opacity="0.3"/><line x1="250" y1="150" x2="218.3" y2="127.8" stroke="#2a2a2a" stroke-width="6.4" stroke-linecap="round"/><line x1="250" y1="150" x2="218.3" y2="127.8" stroke="#ccc" stroke-width="2.0" stroke-dasharray="5 3"/><line x1="253" y1="154" x2="223.1" y2="218.2" stroke="#000" stroke-width="9.2" opacity="0.3"/><line x1="250" y1="150" x2="220.1" y2="214.2" stroke="#2a2a2a" stroke-width="6.4" stroke-linecap="round"/><line x1="250" y1="150" x2="220.1" y2="214.2" stroke="#ccc" stroke-width="2.0" stroke-dasharray="5 3"/><rect x="240.61599999999999" y="147" width="20.332" height="7" fill="#eee"/><polygon points="294,214 308,214 312,312 294,312" fill="#000" opacity="0.75" filter="url(#tb)"/><polygon points="283,212 297,212 301,302 279,302" fill="url(#tw)" stroke="#222" stroke-width="1.5"/><line x1="293" y1="216" x2="357.1" y2="175.9" stroke="#000" stroke-width="9.0" opacity="0.3"/><line x1="290" y1="212" x2="354.1" y2="171.9" stroke="#2a2a2a" stroke-width="6.3" stroke-linecap="round"/><line x1="290" y1="212" x2="354.1" y2="171.9" stroke="#ccc" stroke-width="2.0" stroke-dasharray="5 3"/><line x1="293" y1="216" x2="262.0" y2="194.3" stroke="#000" stroke-width="9.0" opacity="0.3"/><line x1="290" y1="212" x2="259.0" y2="190.3" stroke="#2a2a2a" stroke-width="6.3" stroke-linecap="round"/><line x1="290" y1="212" x2="259.0" y2="190.3" stroke="#ccc" stroke-width="2.0" stroke-dasharray="5 3"/><line x1="293" y1="216" x2="263.7" y2="278.8" stroke="#000" stroke-width="9.0" opacity="0.3"/><line x1="290" y1="212" x2="260.7" y2="274.8" stroke="#2a2a2a" stroke-width="6.3" stroke-linecap="round"/><line x1="290" y1="212" x2="260.7" y2="274.8" stroke="#ccc" stroke-width="2.0" stroke-dasharray="5 3"/><rect x="280.82" y="209" width="19.89" height="7" fill="#eee"/><polygon points="309,234 323,234 327,332 309,332" fill="#000" opacity="0.75" filter="url(#tb)"/><polygon points="298,232 312,232 316,322 294,322" fill="url(#tw)" stroke="#222" stroke-width="1.5"/><line x1="308" y1="236" x2="372.1" y2="195.9" stroke="#000" stroke-width="9.0" opacity="0.3"/><line x1="305" y1="232" x2="369.1" y2="191.9" stroke="#2a2a2a" stroke-width="6.3" stroke-linecap="round"/><line x1="305" y1="232" x2="369.1" y2="191.9" stroke="#ccc" stroke-width="2.0" stroke-dasharray="5 3"/><line x1="308" y1="236" x2="277.0" y2="214.3" stroke="#000" stroke-width="9.0" opacity="0.3"/><line x1="305" y1="232" x2="274.0" y2="210.3" stroke="#2a2a2a" stroke-width="6.3" stroke-linecap="round"/><line x1="305" y1="232" x2="274.0" y2="210.3" stroke="#ccc" stroke-width="2.0" stroke-dasharray="5 3"/><line x1="308" y1="236" x2="278.7" y2="298.8" stroke="#000" stroke-width="9.0" opacity="0.3"/><line x1="305" y1="232" x2="275.7" y2="294.8" stroke="#2a2a2a" stroke-width="6.3" stroke-linecap="round"/><line x1="305" y1="232" x2="275.7" y2="294.8" stroke="#ccc" stroke-width="2.0" stroke-dasharray="5 3"/><rect x="295.82" y="229" width="19.89" height="7" fill="#eee"/><polygon points="387,338 401,338 405,436 387,436" fill="#000" opacity="0.75" filter="url(#tb)"/><polygon points="376,336 390,336 394,426 372,426" fill="url(#tw)" stroke="#222" stroke-width="1.5"/><line x1="386" y1="340" x2="450.1" y2="299.9" stroke="#000" stroke-width="9.0" opacity="0.3"/><line x1="383" y1="336" x2="447.1" y2="295.9" stroke="#2a2a2a" stroke-width="6.3" stroke-linecap="round"/><line x1="383" y1="336" x2="447.1" y2="295.9" stroke="#ccc" stroke-width="2.0" stroke-dasharray="5 3"/><line x1="386" y1="340" x2="355.0" y2="318.3" stroke="#000" stroke-width="9.0" opacity="0.3"/><line x1="383" y1="336" x2="352.0" y2="314.3" stroke="#2a2a2a" stroke-width="6.3" stroke-linecap="round"/><line x1="383" y1="336" x2="352.0" y2="314.3" stroke="#ccc" stroke-width="2.0" stroke-dasharray="5 3"/><line x1="386" y1="340" x2="356.7" y2="402.8" stroke="#000" stroke-width="9.0" opacity="0.3"/><line x1="383" y1="336" x2="353.7" y2="398.8" stroke="#2a2a2a" stroke-width="6.3" stroke-linecap="round"/><line x1="383" y1="336" x2="353.7" y2="398.8" stroke="#ccc" stroke-width="2.0" stroke-dasharray="5 3"/><rect x="373.82" y="333" width="19.89" height="7" fill="#eee"/><rect x="50" y="30" width="55" height="110" rx="6" fill="#fff" stroke="#bbb" stroke-width="2"/><circle cx="78" cy="52" r="9" fill="#f0a30a" stroke="#a06000" stroke-width="1.5"/><path d="M66 64 L90 64 L92 100 L86 100 L84 125 L72 125 L70 100 L64 100 Z" fill="#f0a30a" stroke="#a06000" stroke-width="1.5"/><rect x="50" y="177" width="55" height="110" rx="6" fill="#fff" stroke="#bbb" stroke-width="2"/><line x1="50" y1="232" x2="105" y2="232" stroke="#ccc" stroke-width="2"/><path d="M64 205 L92 205 M78 191 L78 219 M64 259 L92 259" stroke="#666" stroke-width="5"/><rect x="210" y="662" width="750" height="60" fill="url(#bar)"/><text x="117" y="695" font-family="Liberation Serif" font-size="64" fill="#556" opacity="0.5" text-anchor="middle">Google</text><text x="114" y="691" font-family="Liberation Serif" font-size="64" fill="#fff" text-anchor="middle">Google</text><g font-family="Liberation Sans" font-size="30" fill="#333"><text x="345" y="706" textLength="402" lengthAdjust="spacingAndGlyphs">Map data ©2013 Google -</text><text x="759" y="706" textLength="193" lengthAdjust="spacingAndGlyphs" text-decoration="underline">Terms of Use</text></g></g></svg>
<div class="sh" style="top:581.5px">Wind Power Data &amp; Graphs</div>
<div class="ptxt" style="top:613px"><span style="letter-spacing:1.12px">Monthly graphs of wind energy</span><br><span style="letter-spacing:1.15px">supply contrasted with overall</span><br><span style="letter-spacing:1.17px">demand are provided below. The</span><br><span style="letter-spacing:1.26px">raw data (5-minute instantaneous</span><br>readings in megawatts courtesy of<br><span style="letter-spacing:0.91px"><a>AEMO</a>) is also provided and is</span><br><span style="letter-spacing:0.96px">arranged in a <span class="abbr">CSV</span> for ease of</span><br>analysis.</div><div class="yr" style="top:781px">2012</div><div class="li" style="top:806.6px"><span class="bul"></span>March <a>wind power, grid load</a>, <a>data</a></div><div class="li" style="top:826.1px"><span class="bul"></span>February <a>wind power, grid load</a>, <a>data</a></div><div class="li" style="top:845.1px"><span class="bul"></span>January <a>wind power, grid load</a>, <a>data</a></div><div class="yr" style="top:868px">2011</div><div class="li" style="top:897px"><span class="bul"></span><span style="letter-spacing:1.39px"><b>2011</b> <a>wind capacity factor, grid load</a>,</span><br><span style="letter-spacing:1.1px"><a>wind supply, grid load</a></span></div><div class="li" style="top:932px"><span class="bul"></span>December <a>wind power, grid load</a>, <a>data</a></div><div class="li" style="top:951.45px"><span class="bul"></span>November <a>wind power, grid load</a>, <a>data</a></div><div class="li" style="top:970.9000000000001px"><span class="bul"></span>October <a>wind power, grid load</a>, <a>data</a></div><div class="li" style="top:990.3500000000001px"><span class="bul"></span>September <a>wind power, grid load</a>, <a>data</a></div><div class="li" style="top:1009.8000000000002px"><span class="bul"></span>August <a>wind power, grid load</a>, <a>data</a></div><div class="li" style="top:1029.2500000000002px"><span class="bul"></span>July <a>wind power, grid load</a>, <a>data</a></div><div class="li" style="top:1048.7000000000003px"><span class="bul"></span>June <a>wind power, grid load</a>, <a>data</a></div><div class="li" style="top:1068.1500000000003px"><span class="bul"></span>May <a>wind power, grid load</a>, <a>data</a></div><div class="li" style="top:1087.6000000000004px"><span class="bul"></span>April <a>wind power, grid load</a>, <a>data</a></div><div class="li" style="top:1107.0500000000004px"><span class="bul"></span>March <a>wind power, grid load</a>, <a>data</a></div><div class="li" style="top:1126.5000000000005px"><span class="bul"></span>February <a>wind power, grid load</a>, <a>data</a></div><div class="li" style="top:1145.9500000000005px"><span class="bul"></span>January <a>wind power, grid load</a>, <a>data</a></div><div class="yr" style="top:1168px">2010</div><div class="li" style="top:1198px"><span class="bul"></span><span style="letter-spacing:1.39px"><b>2010</b> <a>wind capacity factor, grid load</a>,</span><br><span style="letter-spacing:1.1px"><a>wind supply, grid load</a></span></div><div class="li" style="top:1233px"><span class="bul"></span>December <a>wind power, grid load</a>, <a>data</a></div><div class="li" style="top:1252.45px"><span class="bul"></span>November <a>wind power, grid load</a>, <a>data</a></div><div class="li" style="top:1271.9px"><span class="bul"></span>October <a>wind power, grid load</a>, <a>data</a></div><div class="li" style="top:1291.3500000000001px"><span class="bul"></span>September <a>wind power, grid load</a>, <a>data</a></div><div class="li" style="top:1310.8000000000002px"><span class="bul"></span>August <a>wind power, grid load</a>, <a>data</a></div><div class="li" style="top:1330.2500000000002px"><span class="bul"></span>July <a>wind power, grid load</a>, <a>data</a></div><div class="li" style="top:1349.7000000000003px"><span class="bul"></span>June <a>wind power, grid load</a>, <a>data</a></div><div class="li" style="top:1369.1500000000003px"><span class="bul"></span>May <a>wind power, grid load</a>, <a>data</a></div><div class="li" style="top:1388.6000000000004px"><span class="bul"></span>April <a>wind power, grid load</a>, <a>data</a></div><div class="li" style="top:1408.0500000000004px"><span class="bul"></span>March <a>wind power, grid load</a>, <a>data</a></div><div class="li" style="top:1427.5000000000005px"><span class="bul"></span>February <a>wind power, grid load</a>, <a>data</a></div><div class="li" style="top:1446.9500000000005px"><span class="bul"></span>January <a>wind power, grid load</a>, <a>data</a></div>
</body></html>
